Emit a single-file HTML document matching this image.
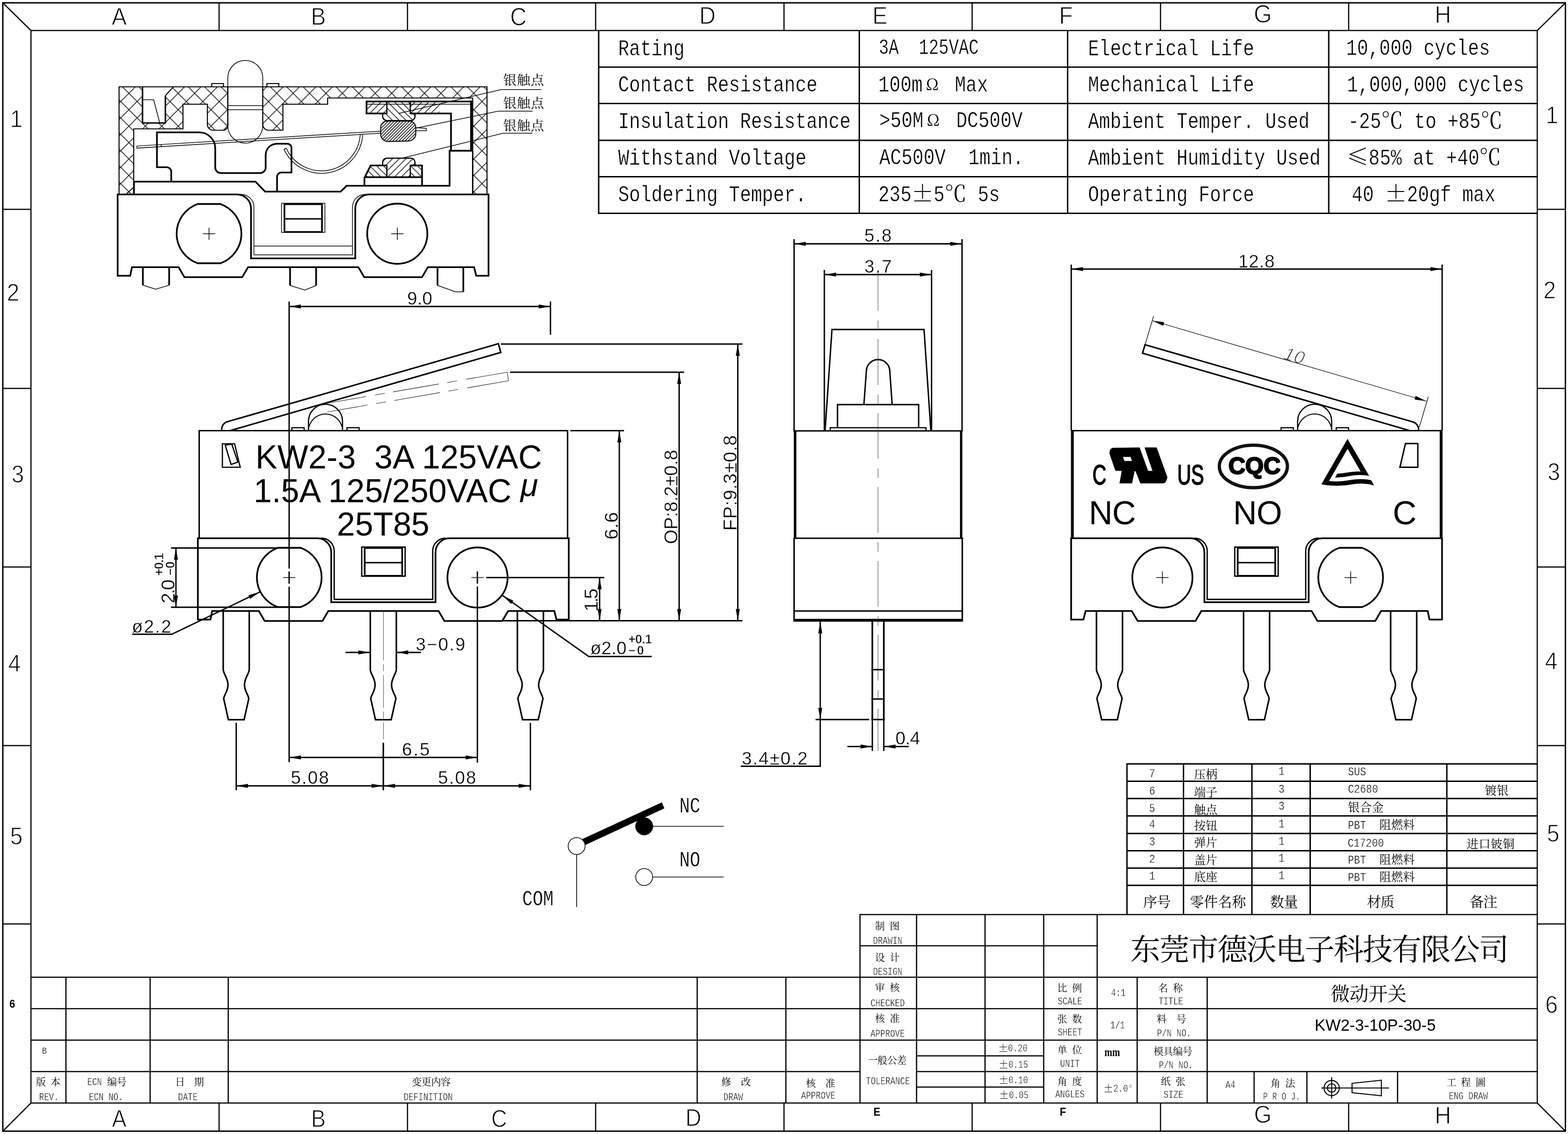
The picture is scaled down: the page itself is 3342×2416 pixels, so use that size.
<!DOCTYPE html>
<html><head><meta charset="utf-8"><title>KW2-3-10P-30-5</title>
<style>html,body{margin:0;padding:0;background:#fff}svg{display:block;will-change:transform}</style></head>
<body><svg width="3342" height="2416" viewBox="0 0 3342 2416" stroke="#000" fill="none" stroke-linecap="butt" stroke-linejoin="miter">
<rect x="0" y="0" width="3342" height="2416" fill="#fff" stroke="none"/>
<defs><pattern id="xh" patternUnits="userSpaceOnUse" width="35" height="35" x="12.25" y="6.25"><path d="M-1 -1 L36 36 M-1 36 L36 -1" stroke="#000" stroke-width="1.5" fill="none"/></pattern>
<pattern id="h1" patternUnits="userSpaceOnUse" width="14.5" height="14.5" x="0" y="0"><path d="M-1 15.5 L15.5 -1 M-1 1 L1 -1 M13.5 15.5 L15.5 13.5" stroke="#000" stroke-width="1.5" fill="none"/></pattern>
<pattern id="h2" patternUnits="userSpaceOnUse" width="14.5" height="14.5" x="0" y="0"><path d="M-1 -1 L15.5 15.5 M-1 13.5 L1 15.5 M13.5 -1 L15.5 1" stroke="#000" stroke-width="1.5" fill="none"/></pattern>
<pattern id="h3" patternUnits="userSpaceOnUse" width="6.5" height="6.5" x="0" y="0"><path d="M-1 7.5 L7.5 -1 M-1 1 L1 -1 M5.5 7.5 L7.5 5.5" stroke="#000" stroke-width="1.5" fill="none"/></pattern></defs>
<text transform="translate(254,53) scale(0.92,1)" font-family="'Liberation Sans',sans-serif" font-size="52.4" text-anchor="middle" stroke="#fff" stroke-width="1.3" fill="#000" xml:space="preserve" style="white-space:pre">A</text>
<text transform="translate(678.5,53) scale(0.92,1)" font-family="'Liberation Sans',sans-serif" font-size="52.4" text-anchor="middle" stroke="#fff" stroke-width="1.3" fill="#000" xml:space="preserve" style="white-space:pre">B</text>
<text transform="translate(1105,53.5) scale(0.92,1)" font-family="'Liberation Sans',sans-serif" font-size="53.15" text-anchor="middle" stroke="#fff" stroke-width="1.3" fill="#000" xml:space="preserve" style="white-space:pre">C</text>
<text transform="translate(1508,50.5) scale(0.92,1)" font-family="'Liberation Sans',sans-serif" font-size="52.4" text-anchor="middle" stroke="#fff" stroke-width="1.3" fill="#000" xml:space="preserve" style="white-space:pre">D</text>
<text transform="translate(1875.5,50.5) scale(0.92,1)" font-family="'Liberation Sans',sans-serif" font-size="52.4" text-anchor="middle" stroke="#fff" stroke-width="1.3" fill="#000" xml:space="preserve" style="white-space:pre">E</text>
<text transform="translate(2272,50.5) scale(0.92,1)" font-family="'Liberation Sans',sans-serif" font-size="52.4" text-anchor="middle" stroke="#fff" stroke-width="1.3" fill="#000" xml:space="preserve" style="white-space:pre">F</text>
<text transform="translate(2691.5,47.5) scale(0.92,1)" font-family="'Liberation Sans',sans-serif" font-size="53.9" text-anchor="middle" stroke="#fff" stroke-width="1.3" fill="#000" xml:space="preserve" style="white-space:pre">G</text>
<text transform="translate(3075.5,49) scale(0.92,1)" font-family="'Liberation Sans',sans-serif" font-size="52.4" text-anchor="middle" stroke="#fff" stroke-width="1.3" fill="#000" xml:space="preserve" style="white-space:pre">H</text>
<text transform="translate(254,2400.5) scale(0.92,1)" font-family="'Liberation Sans',sans-serif" font-size="50.9" text-anchor="middle" stroke="#fff" stroke-width="1.3" fill="#000" xml:space="preserve" style="white-space:pre">A</text>
<text transform="translate(678.5,2400.5) scale(0.92,1)" font-family="'Liberation Sans',sans-serif" font-size="50.9" text-anchor="middle" stroke="#fff" stroke-width="1.3" fill="#000" xml:space="preserve" style="white-space:pre">B</text>
<text transform="translate(1064,2400.5) scale(0.92,1)" font-family="'Liberation Sans',sans-serif" font-size="50.9" text-anchor="middle" stroke="#fff" stroke-width="1.3" fill="#000" xml:space="preserve" style="white-space:pre">C</text>
<text transform="translate(1478,2399) scale(0.92,1)" font-family="'Liberation Sans',sans-serif" font-size="50.9" text-anchor="middle" stroke="#fff" stroke-width="1.3" fill="#000" xml:space="preserve" style="white-space:pre">D</text>
<text transform="translate(2691.5,2391.5) scale(0.92,1)" font-family="'Liberation Sans',sans-serif" font-size="52.4" text-anchor="middle" stroke="#fff" stroke-width="1.3" fill="#000" xml:space="preserve" style="white-space:pre">G</text>
<text transform="translate(3075.5,2394) scale(0.92,1)" font-family="'Liberation Sans',sans-serif" font-size="52.4" text-anchor="middle" stroke="#fff" stroke-width="1.3" fill="#000" xml:space="preserve" style="white-space:pre">H</text>
<text transform="translate(1869,2376.5) scale(0.92,1)" font-family="'Liberation Sans',sans-serif" font-size="23.95" text-anchor="middle" font-weight="bold" stroke="none" fill="#000" xml:space="preserve" style="white-space:pre">E</text>
<text transform="translate(2265.5,2376.5) scale(0.92,1)" font-family="'Liberation Sans',sans-serif" font-size="23.95" text-anchor="middle" font-weight="bold" stroke="none" fill="#000" xml:space="preserve" style="white-space:pre">F</text>
<text transform="translate(35,270.5) scale(0.92,1)" font-family="'Liberation Sans',sans-serif" font-size="52.4" text-anchor="middle" stroke="#fff" stroke-width="1.3" fill="#000" xml:space="preserve" style="white-space:pre">1</text>
<text transform="translate(28,640.5) scale(0.92,1)" font-family="'Liberation Sans',sans-serif" font-size="52.4" text-anchor="middle" stroke="#fff" stroke-width="1.3" fill="#000" xml:space="preserve" style="white-space:pre">2</text>
<text transform="translate(38,1027.5) scale(0.92,1)" font-family="'Liberation Sans',sans-serif" font-size="52.4" text-anchor="middle" stroke="#fff" stroke-width="1.3" fill="#000" xml:space="preserve" style="white-space:pre">3</text>
<text transform="translate(31,1430.5) scale(0.92,1)" font-family="'Liberation Sans',sans-serif" font-size="52.4" text-anchor="middle" stroke="#fff" stroke-width="1.3" fill="#000" xml:space="preserve" style="white-space:pre">4</text>
<text transform="translate(35,1798.5) scale(0.92,1)" font-family="'Liberation Sans',sans-serif" font-size="52.4" text-anchor="middle" stroke="#fff" stroke-width="1.3" fill="#000" xml:space="preserve" style="white-space:pre">5</text>
<text transform="translate(26,2146.5) scale(0.92,1)" font-family="'Liberation Sans',sans-serif" font-size="23.95" text-anchor="middle" font-weight="bold" stroke="none" fill="#000" xml:space="preserve" style="white-space:pre">6</text>
<text transform="translate(3308,262.5) scale(0.92,1)" font-family="'Liberation Sans',sans-serif" font-size="52.4" text-anchor="middle" stroke="#fff" stroke-width="1.3" fill="#000" xml:space="preserve" style="white-space:pre">1</text>
<text transform="translate(3303,635.5) scale(0.92,1)" font-family="'Liberation Sans',sans-serif" font-size="52.4" text-anchor="middle" stroke="#fff" stroke-width="1.3" fill="#000" xml:space="preserve" style="white-space:pre">2</text>
<text transform="translate(3312,1022.5) scale(0.92,1)" font-family="'Liberation Sans',sans-serif" font-size="52.4" text-anchor="middle" stroke="#fff" stroke-width="1.3" fill="#000" xml:space="preserve" style="white-space:pre">3</text>
<text transform="translate(3306.5,1425.5) scale(0.92,1)" font-family="'Liberation Sans',sans-serif" font-size="52.4" text-anchor="middle" stroke="#fff" stroke-width="1.3" fill="#000" xml:space="preserve" style="white-space:pre">4</text>
<text transform="translate(3310.5,1792.5) scale(0.92,1)" font-family="'Liberation Sans',sans-serif" font-size="52.4" text-anchor="middle" stroke="#fff" stroke-width="1.3" fill="#000" xml:space="preserve" style="white-space:pre">5</text>
<text transform="translate(3307,2158) scale(0.92,1)" font-family="'Liberation Sans',sans-serif" font-size="52.4" text-anchor="middle" stroke="#fff" stroke-width="1.3" fill="#000" xml:space="preserve" style="white-space:pre">6</text>
<text transform="translate(1317.5,117.5) scale(0.81,1)" font-family="'Liberation Mono',monospace" font-size="48.58" stroke="#fff" stroke-width="0.6" fill="#000" xml:space="preserve" style="white-space:pre">Rating</text>
<text transform="translate(2319,117.5) scale(0.81,1)" font-family="'Liberation Mono',monospace" font-size="48.58" stroke="#fff" stroke-width="0.6" fill="#000" xml:space="preserve" style="white-space:pre">Electrical Life</text>
<text transform="translate(1317.5,195) scale(0.81,1)" font-family="'Liberation Mono',monospace" font-size="48.58" stroke="#fff" stroke-width="0.6" fill="#000" xml:space="preserve" style="white-space:pre">Contact Resistance</text>
<text transform="translate(2319,195) scale(0.81,1)" font-family="'Liberation Mono',monospace" font-size="48.58" stroke="#fff" stroke-width="0.6" fill="#000" xml:space="preserve" style="white-space:pre">Mechanical Life</text>
<text transform="translate(1317.5,272.5) scale(0.81,1)" font-family="'Liberation Mono',monospace" font-size="48.58" stroke="#fff" stroke-width="0.6" fill="#000" xml:space="preserve" style="white-space:pre">Insulation Resistance</text>
<text transform="translate(2319,272.5) scale(0.81,1)" font-family="'Liberation Mono',monospace" font-size="48.58" stroke="#fff" stroke-width="0.6" fill="#000" xml:space="preserve" style="white-space:pre">Ambient Temper. Used</text>
<text transform="translate(1317.5,350.5) scale(0.81,1)" font-family="'Liberation Mono',monospace" font-size="48.58" stroke="#fff" stroke-width="0.6" fill="#000" xml:space="preserve" style="white-space:pre">Withstand Voltage</text>
<text transform="translate(2319,350.5) scale(0.81,1)" font-family="'Liberation Mono',monospace" font-size="48.58" stroke="#fff" stroke-width="0.6" fill="#000" xml:space="preserve" style="white-space:pre">Ambient Humidity Used</text>
<text transform="translate(1317.5,428.5) scale(0.81,1)" font-family="'Liberation Mono',monospace" font-size="48.58" stroke="#fff" stroke-width="0.6" fill="#000" xml:space="preserve" style="white-space:pre">Soldering Temper.</text>
<text transform="translate(2319,428.5) scale(0.81,1)" font-family="'Liberation Mono',monospace" font-size="48.58" stroke="#fff" stroke-width="0.6" fill="#000" xml:space="preserve" style="white-space:pre">Operating Force</text>
<text transform="translate(1873,115) scale(0.78,1)" font-family="'Liberation Mono',monospace" font-size="45.54" stroke="#fff" stroke-width="0.6" fill="#000" xml:space="preserve" style="white-space:pre">3A  125VAC</text>
<text transform="translate(1872,195) scale(0.81,1)" font-family="'Liberation Mono',monospace" font-size="48.58" stroke="#fff" stroke-width="0.6" fill="#000" xml:space="preserve" style="white-space:pre">100m</text>
<text transform="translate(1974,192)" font-family="'Noto Serif CJK SC',serif" font-size="34" stroke="none" fill="#000" xml:space="preserve" style="white-space:pre">Ω</text>
<text transform="translate(2035,195) scale(0.81,1)" font-family="'Liberation Mono',monospace" font-size="48.58" stroke="#fff" stroke-width="0.6" fill="#000" xml:space="preserve" style="white-space:pre">Max</text>
<text transform="translate(1874,271) scale(0.81,1)" font-family="'Liberation Mono',monospace" font-size="48.58" stroke="#fff" stroke-width="0.6" fill="#000" xml:space="preserve" style="white-space:pre">&gt;50M</text>
<text transform="translate(1976,268)" font-family="'Noto Serif CJK SC',serif" font-size="34" stroke="none" fill="#000" xml:space="preserve" style="white-space:pre">Ω</text>
<text transform="translate(2038,271) scale(0.81,1)" font-family="'Liberation Mono',monospace" font-size="48.58" stroke="#fff" stroke-width="0.6" fill="#000" xml:space="preserve" style="white-space:pre">DC500V</text>
<text transform="translate(1874,349.5) scale(0.81,1)" font-family="'Liberation Mono',monospace" font-size="48.58" stroke="#fff" stroke-width="0.6" fill="#000" xml:space="preserve" style="white-space:pre">AC500V</text>
<text transform="translate(2064,349.5) scale(0.81,1)" font-family="'Liberation Mono',monospace" font-size="48.58" stroke="#fff" stroke-width="0.6" fill="#000" xml:space="preserve" style="white-space:pre">1min.</text>
<text transform="translate(1872,428.5) scale(0.81,1)" font-family="'Liberation Mono',monospace" font-size="48.58" stroke="#fff" stroke-width="0.6" fill="#000" xml:space="preserve" style="white-space:pre">235</text>
<text transform="translate(1942.65,428.5)" font-family="'Noto Serif CJK SC',serif" font-size="47.1" stroke="none" fill="#000" xml:space="preserve" style="white-space:pre">±</text>
<text transform="translate(1989.75,428.5) scale(0.81,1)" font-family="'Liberation Mono',monospace" font-size="48.58" stroke="#fff" stroke-width="0.6" fill="#000" xml:space="preserve" style="white-space:pre">5</text>
<text transform="translate(2013.3,428.5)" font-family="'Noto Serif CJK SC',serif" font-size="47.1" stroke="none" fill="#000" xml:space="preserve" style="white-space:pre">℃</text>
<text transform="translate(2083.95,428.5) scale(0.81,1)" font-family="'Liberation Mono',monospace" font-size="48.58" stroke="#fff" stroke-width="0.6" fill="#000" xml:space="preserve" style="white-space:pre">5s</text>
<text transform="translate(2869,117) scale(0.81,1)" font-family="'Liberation Mono',monospace" font-size="48.58" stroke="#fff" stroke-width="0.6" fill="#000" xml:space="preserve" style="white-space:pre">10,000 cycles</text>
<text transform="translate(2871,194.5) scale(0.81,1)" font-family="'Liberation Mono',monospace" font-size="48.58" stroke="#fff" stroke-width="0.6" fill="#000" xml:space="preserve" style="white-space:pre">1,000,000 cycles</text>
<text transform="translate(2873,273) scale(0.81,1)" font-family="'Liberation Mono',monospace" font-size="48.58" stroke="#fff" stroke-width="0.6" fill="#000" xml:space="preserve" style="white-space:pre">-25</text>
<text transform="translate(2943.65,273)" font-family="'Noto Serif CJK SC',serif" font-size="47.1" stroke="none" fill="#000" xml:space="preserve" style="white-space:pre">℃</text>
<text transform="translate(3014.3,273) scale(0.81,1)" font-family="'Liberation Mono',monospace" font-size="48.58" stroke="#fff" stroke-width="0.6" fill="#000" xml:space="preserve" style="white-space:pre">to +85</text>
<text transform="translate(3155.6,273)" font-family="'Noto Serif CJK SC',serif" font-size="47.1" stroke="none" fill="#000" xml:space="preserve" style="white-space:pre">℃</text>
<text transform="translate(2870,351)" font-family="'Noto Serif CJK SC',serif" font-size="47.1" stroke="none" fill="#000" xml:space="preserve" style="white-space:pre">≤</text>
<text transform="translate(2917.1,351) scale(0.81,1)" font-family="'Liberation Mono',monospace" font-size="48.58" stroke="#fff" stroke-width="0.6" fill="#000" xml:space="preserve" style="white-space:pre">85% at +40</text>
<text transform="translate(3152.6,351)" font-family="'Noto Serif CJK SC',serif" font-size="47.1" stroke="none" fill="#000" xml:space="preserve" style="white-space:pre">℃</text>
<text transform="translate(2881,428.5) scale(0.81,1)" font-family="'Liberation Mono',monospace" font-size="48.58" stroke="#fff" stroke-width="0.6" fill="#000" xml:space="preserve" style="white-space:pre">40</text>
<text transform="translate(2951.65,428.5)" font-family="'Noto Serif CJK SC',serif" font-size="47.1" stroke="none" fill="#000" xml:space="preserve" style="white-space:pre">±</text>
<text transform="translate(2998.75,428.5) scale(0.81,1)" font-family="'Liberation Mono',monospace" font-size="48.58" stroke="#fff" stroke-width="0.6" fill="#000" xml:space="preserve" style="white-space:pre">20gf max</text>
<text transform="translate(1865.02,1979.82)" font-family="'Noto Serif CJK SC',serif" font-size="21" stroke="none" fill="#000" xml:space="preserve" style="white-space:pre">制</text>
<text transform="translate(1896.52,1979.82)" font-family="'Noto Serif CJK SC',serif" font-size="21" stroke="none" fill="#000" xml:space="preserve" style="white-space:pre">图</text>
<text transform="translate(1860.65,2010.75) scale(0.79,1)" font-family="'Liberation Mono',monospace" font-size="22.01" stroke="#fff" stroke-width="0.5" fill="#000" xml:space="preserve" style="white-space:pre">DRAWIN</text>
<text transform="translate(1865.02,2046.82)" font-family="'Noto Serif CJK SC',serif" font-size="21" stroke="none" fill="#000" xml:space="preserve" style="white-space:pre">设</text>
<text transform="translate(1896.52,2046.82)" font-family="'Noto Serif CJK SC',serif" font-size="21" stroke="none" fill="#000" xml:space="preserve" style="white-space:pre">计</text>
<text transform="translate(1860.65,2077) scale(0.79,1)" font-family="'Liberation Mono',monospace" font-size="22.01" stroke="#fff" stroke-width="0.5" fill="#000" xml:space="preserve" style="white-space:pre">DESIGN</text>
<text transform="translate(1865.02,2111.32)" font-family="'Noto Serif CJK SC',serif" font-size="21" stroke="none" fill="#000" xml:space="preserve" style="white-space:pre">审</text>
<text transform="translate(1896.52,2111.32)" font-family="'Noto Serif CJK SC',serif" font-size="21" stroke="none" fill="#000" xml:space="preserve" style="white-space:pre">核</text>
<text transform="translate(1855.42,2143.75) scale(0.79,1)" font-family="'Liberation Mono',monospace" font-size="22.01" stroke="#fff" stroke-width="0.5" fill="#000" xml:space="preserve" style="white-space:pre">CHECKED</text>
<text transform="translate(1865.02,2177.32)" font-family="'Noto Serif CJK SC',serif" font-size="21" stroke="none" fill="#000" xml:space="preserve" style="white-space:pre">核</text>
<text transform="translate(1896.52,2177.32)" font-family="'Noto Serif CJK SC',serif" font-size="21" stroke="none" fill="#000" xml:space="preserve" style="white-space:pre">准</text>
<text transform="translate(1855.42,2208.75) scale(0.79,1)" font-family="'Liberation Mono',monospace" font-size="22.01" stroke="#fff" stroke-width="0.5" fill="#000" xml:space="preserve" style="white-space:pre">APPROVE</text>
<text transform="translate(1849.77,2266.32)" font-family="'Noto Serif CJK SC',serif" font-size="21" letter-spacing="-0.42" stroke="none" fill="#000" xml:space="preserve" style="white-space:pre">一般公差</text>
<text transform="translate(1845.47,2310) scale(0.79,1)" font-family="'Liberation Mono',monospace" font-size="22.01" stroke="#fff" stroke-width="0.5" fill="#000" xml:space="preserve" style="white-space:pre">TOLERANCE</text>
<text transform="translate(2127.5,2239.5)" font-family="'Noto Serif CJK SC',serif" font-size="20.9" stroke="none" fill="#000" xml:space="preserve" style="white-space:pre">±</text>
<text transform="translate(2148.4,2239.5) scale(0.79,1)" font-family="'Liberation Mono',monospace" font-size="22.01" stroke="#fff" stroke-width="0.5" fill="#000" xml:space="preserve" style="white-space:pre">0.20</text>
<text transform="translate(2128.5,2275)" font-family="'Noto Serif CJK SC',serif" font-size="20.9" stroke="none" fill="#000" xml:space="preserve" style="white-space:pre">±</text>
<text transform="translate(2149.4,2275) scale(0.79,1)" font-family="'Liberation Mono',monospace" font-size="22.01" stroke="#fff" stroke-width="0.5" fill="#000" xml:space="preserve" style="white-space:pre">0.15</text>
<text transform="translate(2128.5,2308.25)" font-family="'Noto Serif CJK SC',serif" font-size="20.9" stroke="none" fill="#000" xml:space="preserve" style="white-space:pre">±</text>
<text transform="translate(2149.4,2308.25) scale(0.79,1)" font-family="'Liberation Mono',monospace" font-size="22.01" stroke="#fff" stroke-width="0.5" fill="#000" xml:space="preserve" style="white-space:pre">0.10</text>
<text transform="translate(2129.5,2339.5)" font-family="'Noto Serif CJK SC',serif" font-size="20.9" stroke="none" fill="#000" xml:space="preserve" style="white-space:pre">±</text>
<text transform="translate(2150.4,2339.5) scale(0.79,1)" font-family="'Liberation Mono',monospace" font-size="22.01" stroke="#fff" stroke-width="0.5" fill="#000" xml:space="preserve" style="white-space:pre">0.05</text>
<text transform="translate(2253.51,2111.82)" font-family="'Noto Serif CJK SC',serif" font-size="21" stroke="none" fill="#000" xml:space="preserve" style="white-space:pre">比</text>
<text transform="translate(2285.01,2111.82)" font-family="'Noto Serif CJK SC',serif" font-size="21" stroke="none" fill="#000" xml:space="preserve" style="white-space:pre">例</text>
<text transform="translate(2254.38,2140) scale(0.79,1)" font-family="'Liberation Mono',monospace" font-size="22.01" stroke="#fff" stroke-width="0.5" fill="#000" xml:space="preserve" style="white-space:pre">SCALE</text>
<text transform="translate(2253.51,2177.82)" font-family="'Noto Serif CJK SC',serif" font-size="21" stroke="none" fill="#000" xml:space="preserve" style="white-space:pre">张</text>
<text transform="translate(2285.01,2177.82)" font-family="'Noto Serif CJK SC',serif" font-size="21" stroke="none" fill="#000" xml:space="preserve" style="white-space:pre">数</text>
<text transform="translate(2254.38,2206.25) scale(0.79,1)" font-family="'Liberation Mono',monospace" font-size="22.01" stroke="#fff" stroke-width="0.5" fill="#000" xml:space="preserve" style="white-space:pre">SHEET</text>
<text transform="translate(2253.51,2244.32)" font-family="'Noto Serif CJK SC',serif" font-size="21" stroke="none" fill="#000" xml:space="preserve" style="white-space:pre">单</text>
<text transform="translate(2285.01,2244.32)" font-family="'Noto Serif CJK SC',serif" font-size="21" stroke="none" fill="#000" xml:space="preserve" style="white-space:pre">位</text>
<text transform="translate(2259.6,2272.5) scale(0.79,1)" font-family="'Liberation Mono',monospace" font-size="22.01" stroke="#fff" stroke-width="0.5" fill="#000" xml:space="preserve" style="white-space:pre">UNIT</text>
<text transform="translate(2253.51,2310.82)" font-family="'Noto Serif CJK SC',serif" font-size="21" stroke="none" fill="#000" xml:space="preserve" style="white-space:pre">角</text>
<text transform="translate(2285.01,2310.82)" font-family="'Noto Serif CJK SC',serif" font-size="21" stroke="none" fill="#000" xml:space="preserve" style="white-space:pre">度</text>
<text transform="translate(2249.15,2337.5) scale(0.79,1)" font-family="'Liberation Mono',monospace" font-size="22.01" stroke="#fff" stroke-width="0.5" fill="#000" xml:space="preserve" style="white-space:pre">ANGLES</text>
<text transform="translate(2368,2122) scale(0.79,1)" font-family="'Liberation Mono',monospace" font-size="22.01" stroke="#fff" stroke-width="0.5" fill="#000" xml:space="preserve" style="white-space:pre">4:1</text>
<text transform="translate(2366.5,2190.75) scale(0.79,1)" font-family="'Liberation Mono',monospace" font-size="22.01" stroke="#fff" stroke-width="0.5" fill="#000" xml:space="preserve" style="white-space:pre">1/1</text>
<text transform="translate(2354,2249.5) scale(0.95,1.22)" font-family="'Liberation Serif','Noto Serif CJK SC',serif" font-size="21" font-weight="bold" stroke="none" fill="#000" xml:space="preserve" style="white-space:pre">mm</text>
<text transform="translate(2352,2325.75)" font-family="'Noto Serif CJK SC',serif" font-size="20.9" stroke="none" fill="#000" xml:space="preserve" style="white-space:pre">±</text>
<text transform="translate(2372.9,2325.75) scale(0.79,1)" font-family="'Liberation Mono',monospace" font-size="22.01" stroke="#fff" stroke-width="0.5" fill="#000" xml:space="preserve" style="white-space:pre">2.0°</text>
<text transform="translate(2468.51,2111.82)" font-family="'Noto Serif CJK SC',serif" font-size="21" stroke="none" fill="#000" xml:space="preserve" style="white-space:pre">名</text>
<text transform="translate(2500.01,2111.82)" font-family="'Noto Serif CJK SC',serif" font-size="21" stroke="none" fill="#000" xml:space="preserve" style="white-space:pre">称</text>
<text transform="translate(2469.38,2140) scale(0.79,1)" font-family="'Liberation Mono',monospace" font-size="22.01" stroke="#fff" stroke-width="0.5" fill="#000" xml:space="preserve" style="white-space:pre">TITLE</text>
<text transform="translate(2465.26,2178.32)" font-family="'Noto Serif CJK SC',serif" font-size="21" stroke="none" fill="#000" xml:space="preserve" style="white-space:pre">料</text>
<text transform="translate(2507.26,2178.32)" font-family="'Noto Serif CJK SC',serif" font-size="21" stroke="none" fill="#000" xml:space="preserve" style="white-space:pre">号</text>
<text transform="translate(2466,2208) scale(0.79,1)" font-family="'Liberation Mono',monospace" font-size="22.01" stroke="#fff" stroke-width="0.5" fill="#000" xml:space="preserve" style="white-space:pre">P/N NO.</text>
<text transform="translate(2458.76,2246.82)" font-family="'Noto Serif CJK SC',serif" font-size="21" letter-spacing="-0.42" stroke="none" fill="#000" xml:space="preserve" style="white-space:pre">模具编号</text>
<text transform="translate(2470,2275.75) scale(0.79,1)" font-family="'Liberation Mono',monospace" font-size="22.01" stroke="#fff" stroke-width="0.5" fill="#000" xml:space="preserve" style="white-space:pre">P/N NO.</text>
<text transform="translate(2474.01,2311.32)" font-family="'Noto Serif CJK SC',serif" font-size="21" stroke="none" fill="#000" xml:space="preserve" style="white-space:pre">纸</text>
<text transform="translate(2505.51,2311.32)" font-family="'Noto Serif CJK SC',serif" font-size="21" stroke="none" fill="#000" xml:space="preserve" style="white-space:pre">张</text>
<text transform="translate(2480.1,2339) scale(0.79,1)" font-family="'Liberation Mono',monospace" font-size="22.01" stroke="#fff" stroke-width="0.5" fill="#000" xml:space="preserve" style="white-space:pre">SIZE</text>
<text transform="translate(2612,2318) scale(0.79,1)" font-family="'Liberation Mono',monospace" font-size="22.01" stroke="#fff" stroke-width="0.5" fill="#000" xml:space="preserve" style="white-space:pre">A4</text>
<text transform="translate(2708.01,2314.82)" font-family="'Noto Serif CJK SC',serif" font-size="21" stroke="none" fill="#000" xml:space="preserve" style="white-space:pre">角</text>
<text transform="translate(2739.51,2314.82)" font-family="'Noto Serif CJK SC',serif" font-size="21" stroke="none" fill="#000" xml:space="preserve" style="white-space:pre">法</text>
<text transform="translate(2692,2342.5) scale(0.75,1)" font-family="'Liberation Mono',monospace" font-size="22.01" stroke="#fff" stroke-width="0.5" fill="#000" xml:space="preserve" style="white-space:pre">P R O J.</text>
<text transform="translate(3083.26,2312.82)" font-family="'Noto Serif CJK SC',serif" font-size="21" stroke="none" fill="#000" xml:space="preserve" style="white-space:pre">工</text>
<text transform="translate(3113.76,2312.82)" font-family="'Noto Serif CJK SC',serif" font-size="21" stroke="none" fill="#000" xml:space="preserve" style="white-space:pre">程</text>
<text transform="translate(3145.26,2312.82)" font-family="'Noto Serif CJK SC',serif" font-size="21" stroke="none" fill="#000" xml:space="preserve" style="white-space:pre">圖</text>
<text transform="translate(3088,2342) scale(0.79,1)" font-family="'Liberation Mono',monospace" font-size="22.01" stroke="#fff" stroke-width="0.5" fill="#000" xml:space="preserve" style="white-space:pre">ENG DRAW</text>
<text transform="translate(2409.26,2045.38)" font-family="'Noto Serif CJK SC',serif" font-size="64" letter-spacing="-2.1" stroke="none" fill="#000" xml:space="preserve" style="white-space:pre">东莞市德沃电子科技有限公司</text>
<text transform="translate(2836.07,2132.22)" font-family="'Noto Serif CJK SC',serif" font-size="41" letter-spacing="-0.7" stroke="none" fill="#000" xml:space="preserve" style="white-space:pre">微动开关</text>
<text transform="translate(2802,2195.5)" font-family="'Liberation Sans',sans-serif" font-size="34.4" stroke="none" fill="#000" xml:space="preserve" style="white-space:pre">KW2-3-10P-30-5</text>
<text transform="translate(89.5,2245) scale(0.88,1)" font-family="'Liberation Mono',monospace" font-size="19.74" stroke="#fff" stroke-width="0.5" fill="#000" xml:space="preserve" style="white-space:pre">B</text>
<text transform="translate(76.77,2312.32)" font-family="'Noto Serif CJK SC',serif" font-size="21" stroke="none" fill="#000" xml:space="preserve" style="white-space:pre">版</text>
<text transform="translate(107.77,2312.32)" font-family="'Noto Serif CJK SC',serif" font-size="21" stroke="none" fill="#000" xml:space="preserve" style="white-space:pre">本</text>
<text transform="translate(83.5,2343.5) scale(0.79,1)" font-family="'Liberation Mono',monospace" font-size="22.01" stroke="#fff" stroke-width="0.5" fill="#000" xml:space="preserve" style="white-space:pre">REV.</text>
<text transform="translate(186,2312) scale(0.79,1)" font-family="'Liberation Mono',monospace" font-size="22.01" stroke="#fff" stroke-width="0.5" fill="#000" xml:space="preserve" style="white-space:pre">ECN</text>
<text transform="translate(228.26,2312.32)" font-family="'Noto Serif CJK SC',serif" font-size="21" letter-spacing="-0.42" stroke="none" fill="#000" xml:space="preserve" style="white-space:pre">编号</text>
<text transform="translate(189.5,2343.5) scale(0.79,1)" font-family="'Liberation Mono',monospace" font-size="22.01" stroke="#fff" stroke-width="0.5" fill="#000" xml:space="preserve" style="white-space:pre">ECN NO.</text>
<text transform="translate(373.26,2312.32)" font-family="'Noto Serif CJK SC',serif" font-size="21" stroke="none" fill="#000" xml:space="preserve" style="white-space:pre">日</text>
<text transform="translate(413.76,2312.32)" font-family="'Noto Serif CJK SC',serif" font-size="21" stroke="none" fill="#000" xml:space="preserve" style="white-space:pre">期</text>
<text transform="translate(379.5,2343.5) scale(0.79,1)" font-family="'Liberation Mono',monospace" font-size="22.01" stroke="#fff" stroke-width="0.5" fill="#000" xml:space="preserve" style="white-space:pre">DATE</text>
<text transform="translate(877.76,2312.32)" font-family="'Noto Serif CJK SC',serif" font-size="21" letter-spacing="-0.42" stroke="none" fill="#000" xml:space="preserve" style="white-space:pre">变更内容</text>
<text transform="translate(860.5,2343.5) scale(0.79,1)" font-family="'Liberation Mono',monospace" font-size="22.01" stroke="#fff" stroke-width="0.5" fill="#000" xml:space="preserve" style="white-space:pre">DEFINITION</text>
<text transform="translate(1537.27,2312.32)" font-family="'Noto Serif CJK SC',serif" font-size="21" stroke="none" fill="#000" xml:space="preserve" style="white-space:pre">修</text>
<text transform="translate(1579.27,2312.32)" font-family="'Noto Serif CJK SC',serif" font-size="21" stroke="none" fill="#000" xml:space="preserve" style="white-space:pre">改</text>
<text transform="translate(1542,2343.5) scale(0.79,1)" font-family="'Liberation Mono',monospace" font-size="22.01" stroke="#fff" stroke-width="0.5" fill="#000" xml:space="preserve" style="white-space:pre">DRAW</text>
<text transform="translate(1717.77,2314.82)" font-family="'Noto Serif CJK SC',serif" font-size="21" stroke="none" fill="#000" xml:space="preserve" style="white-space:pre">核</text>
<text transform="translate(1759.27,2314.82)" font-family="'Noto Serif CJK SC',serif" font-size="21" stroke="none" fill="#000" xml:space="preserve" style="white-space:pre">准</text>
<text transform="translate(1707.5,2341) scale(0.79,1)" font-family="'Liberation Mono',monospace" font-size="22.01" stroke="#fff" stroke-width="0.5" fill="#000" xml:space="preserve" style="white-space:pre">APPROVE</text>
<text transform="translate(2449.35,1655.5) scale(0.83,1)" font-family="'Liberation Mono',monospace" font-size="25.81" stroke="#fff" stroke-width="0.5" fill="#000" xml:space="preserve" style="white-space:pre">7</text>
<text transform="translate(2449.35,1692.5) scale(0.83,1)" font-family="'Liberation Mono',monospace" font-size="25.81" stroke="#fff" stroke-width="0.5" fill="#000" xml:space="preserve" style="white-space:pre">6</text>
<text transform="translate(2449.35,1730) scale(0.83,1)" font-family="'Liberation Mono',monospace" font-size="25.81" stroke="#fff" stroke-width="0.5" fill="#000" xml:space="preserve" style="white-space:pre">5</text>
<text transform="translate(2449.35,1763.75) scale(0.83,1)" font-family="'Liberation Mono',monospace" font-size="25.81" stroke="#fff" stroke-width="0.5" fill="#000" xml:space="preserve" style="white-space:pre">4</text>
<text transform="translate(2449.35,1800.75) scale(0.83,1)" font-family="'Liberation Mono',monospace" font-size="25.81" stroke="#fff" stroke-width="0.5" fill="#000" xml:space="preserve" style="white-space:pre">3</text>
<text transform="translate(2449.35,1837.5) scale(0.83,1)" font-family="'Liberation Mono',monospace" font-size="25.81" stroke="#fff" stroke-width="0.5" fill="#000" xml:space="preserve" style="white-space:pre">2</text>
<text transform="translate(2449.35,1873.75) scale(0.83,1)" font-family="'Liberation Mono',monospace" font-size="25.81" stroke="#fff" stroke-width="0.5" fill="#000" xml:space="preserve" style="white-space:pre">1</text>
<text transform="translate(2545.12,1659)" font-family="'Noto Serif CJK SC',serif" font-size="25" letter-spacing="-0.3" stroke="none" fill="#000" xml:space="preserve" style="white-space:pre">压柄</text>
<text transform="translate(2545.12,1696.75)" font-family="'Noto Serif CJK SC',serif" font-size="25" letter-spacing="-0.3" stroke="none" fill="#000" xml:space="preserve" style="white-space:pre">端子</text>
<text transform="translate(2545.12,1733.75)" font-family="'Noto Serif CJK SC',serif" font-size="25" letter-spacing="-0.3" stroke="none" fill="#000" xml:space="preserve" style="white-space:pre">触点</text>
<text transform="translate(2545.12,1768)" font-family="'Noto Serif CJK SC',serif" font-size="25" letter-spacing="-0.3" stroke="none" fill="#000" xml:space="preserve" style="white-space:pre">按钮</text>
<text transform="translate(2545.12,1804)" font-family="'Noto Serif CJK SC',serif" font-size="25" letter-spacing="-0.3" stroke="none" fill="#000" xml:space="preserve" style="white-space:pre">弹片</text>
<text transform="translate(2545.12,1841)" font-family="'Noto Serif CJK SC',serif" font-size="25" letter-spacing="-0.3" stroke="none" fill="#000" xml:space="preserve" style="white-space:pre">盖片</text>
<text transform="translate(2545.12,1876.75)" font-family="'Noto Serif CJK SC',serif" font-size="25" letter-spacing="-0.3" stroke="none" fill="#000" xml:space="preserve" style="white-space:pre">底座</text>
<text transform="translate(2725.1,1651.25) scale(0.83,1)" font-family="'Liberation Mono',monospace" font-size="25.81" stroke="#fff" stroke-width="0.5" fill="#000" xml:space="preserve" style="white-space:pre">1</text>
<text transform="translate(2725.1,1688.75) scale(0.83,1)" font-family="'Liberation Mono',monospace" font-size="25.81" stroke="#fff" stroke-width="0.5" fill="#000" xml:space="preserve" style="white-space:pre">3</text>
<text transform="translate(2725.1,1725) scale(0.83,1)" font-family="'Liberation Mono',monospace" font-size="25.81" stroke="#fff" stroke-width="0.5" fill="#000" xml:space="preserve" style="white-space:pre">3</text>
<text transform="translate(2725.1,1762.5) scale(0.83,1)" font-family="'Liberation Mono',monospace" font-size="25.81" stroke="#fff" stroke-width="0.5" fill="#000" xml:space="preserve" style="white-space:pre">1</text>
<text transform="translate(2725.1,1799.5) scale(0.83,1)" font-family="'Liberation Mono',monospace" font-size="25.81" stroke="#fff" stroke-width="0.5" fill="#000" xml:space="preserve" style="white-space:pre">1</text>
<text transform="translate(2725.1,1836.25) scale(0.83,1)" font-family="'Liberation Mono',monospace" font-size="25.81" stroke="#fff" stroke-width="0.5" fill="#000" xml:space="preserve" style="white-space:pre">1</text>
<text transform="translate(2725.1,1873) scale(0.83,1)" font-family="'Liberation Mono',monospace" font-size="25.81" stroke="#fff" stroke-width="0.5" fill="#000" xml:space="preserve" style="white-space:pre">1</text>
<text transform="translate(2873,1651.75) scale(0.83,1)" font-family="'Liberation Mono',monospace" font-size="25.81" stroke="#fff" stroke-width="0.5" fill="#000" xml:space="preserve" style="white-space:pre">SUS</text>
<text transform="translate(2873,1688.75) scale(0.83,1)" font-family="'Liberation Mono',monospace" font-size="25.81" stroke="#fff" stroke-width="0.5" fill="#000" xml:space="preserve" style="white-space:pre">C2680</text>
<text transform="translate(2873.12,1729.25)" font-family="'Noto Serif CJK SC',serif" font-size="25" letter-spacing="0.4" stroke="none" fill="#000" xml:space="preserve" style="white-space:pre">银合金</text>
<text transform="translate(2873,1766.25) scale(0.83,1)" font-family="'Liberation Mono',monospace" font-size="25.81" stroke="#fff" stroke-width="0.5" fill="#000" xml:space="preserve" style="white-space:pre">PBT</text>
<text transform="translate(2940.12,1765.75)" font-family="'Noto Serif CJK SC',serif" font-size="25" letter-spacing="0.2" stroke="none" fill="#000" xml:space="preserve" style="white-space:pre">阻燃料</text>
<text transform="translate(2873,1840) scale(0.83,1)" font-family="'Liberation Mono',monospace" font-size="25.81" stroke="#fff" stroke-width="0.5" fill="#000" xml:space="preserve" style="white-space:pre">PBT</text>
<text transform="translate(2940.12,1839.5)" font-family="'Noto Serif CJK SC',serif" font-size="25" letter-spacing="0.2" stroke="none" fill="#000" xml:space="preserve" style="white-space:pre">阻燃料</text>
<text transform="translate(2873,1877) scale(0.83,1)" font-family="'Liberation Mono',monospace" font-size="25.81" stroke="#fff" stroke-width="0.5" fill="#000" xml:space="preserve" style="white-space:pre">PBT</text>
<text transform="translate(2940.12,1876.5)" font-family="'Noto Serif CJK SC',serif" font-size="25" letter-spacing="0.2" stroke="none" fill="#000" xml:space="preserve" style="white-space:pre">阻燃料</text>
<text transform="translate(2872.5,1803.75) scale(0.83,1)" font-family="'Liberation Mono',monospace" font-size="25.81" stroke="#fff" stroke-width="0.5" fill="#000" xml:space="preserve" style="white-space:pre">C17200</text>
<text transform="translate(3165.12,1692.5)" font-family="'Noto Serif CJK SC',serif" font-size="25" letter-spacing="0.2" stroke="none" fill="#000" xml:space="preserve" style="white-space:pre">镀银</text>
<text transform="translate(3126.12,1806.75)" font-family="'Noto Serif CJK SC',serif" font-size="25" letter-spacing="0.6" stroke="none" fill="#000" xml:space="preserve" style="white-space:pre">进口铍铜</text>
<text transform="translate(2436.45,1931.6)" font-family="'Noto Serif CJK SC',serif" font-size="30" letter-spacing="-1" stroke="none" fill="#000" xml:space="preserve" style="white-space:pre">序号</text>
<text transform="translate(2535.95,1931.6)" font-family="'Noto Serif CJK SC',serif" font-size="30" letter-spacing="-0.1" stroke="none" fill="#000" xml:space="preserve" style="white-space:pre">零件名称</text>
<text transform="translate(2706.95,1931.6)" font-family="'Noto Serif CJK SC',serif" font-size="30" letter-spacing="-0.7" stroke="none" fill="#000" xml:space="preserve" style="white-space:pre">数量</text>
<text transform="translate(2913.45,1931.6)" font-family="'Noto Serif CJK SC',serif" font-size="30" letter-spacing="-1.2" stroke="none" fill="#000" xml:space="preserve" style="white-space:pre">材质</text>
<text transform="translate(3132.45,1931.6)" font-family="'Noto Serif CJK SC',serif" font-size="30" letter-spacing="-0.9" stroke="none" fill="#000" xml:space="preserve" style="white-space:pre">备注</text>
<text transform="translate(1072.5,181.47)" font-family="'Noto Serif CJK SC',serif" font-size="28.5" letter-spacing="0.8" stroke="none" fill="#000" xml:space="preserve" style="white-space:pre">银触点</text>
<text transform="translate(1072.5,229.72)" font-family="'Noto Serif CJK SC',serif" font-size="28.5" letter-spacing="0.8" stroke="none" fill="#000" xml:space="preserve" style="white-space:pre">银触点</text>
<text transform="translate(1072.5,277.72)" font-family="'Noto Serif CJK SC',serif" font-size="28.5" letter-spacing="0.8" stroke="none" fill="#000" xml:space="preserve" style="white-space:pre">银触点</text>
<text transform="translate(550,998)" x="-5.57" font-family="'Liberation Sans',sans-serif" font-size="69.6" letter-spacing="0.31" stroke="none" fill="#000" xml:space="preserve" style="white-space:pre">KW2-3  3A 125VAC</text>
<text transform="translate(546,1070)" x="-5.22" font-family="'Liberation Sans',sans-serif" font-size="69.6" letter-spacing="0.08" stroke="none" fill="#000" xml:space="preserve" style="white-space:pre">1.5A 125/250VAC</text>
<text transform="translate(1108,1056.5)" x="1.37" font-family="'Liberation Sans',sans-serif" font-size="68.5" font-style="italic" stroke="none" fill="#000" xml:space="preserve" style="white-space:pre">μ</text>
<text transform="translate(721.5,1140.5)" x="-3.48" font-family="'Liberation Sans',sans-serif" font-size="69.6" letter-spacing="-0.01" stroke="none" fill="#000" xml:space="preserve" style="white-space:pre">25T85</text>
<text transform="translate(869.5,648.75)" x="-1.73" font-family="'Liberation Sans',sans-serif" font-size="38.5" letter-spacing="0.03" stroke="#fff" stroke-width="0.5" fill="#000" xml:space="preserve" style="white-space:pre">9.0</text>
<text transform="translate(858.75,1609.5)" x="-1.93" font-family="'Liberation Sans',sans-serif" font-size="38.5" letter-spacing="2.72" stroke="#fff" stroke-width="0.5" fill="#000" xml:space="preserve" style="white-space:pre">6.5</text>
<text transform="translate(621.25,1670)" x="-1.54" font-family="'Liberation Sans',sans-serif" font-size="38.5" letter-spacing="2.07" stroke="#fff" stroke-width="0.5" fill="#000" xml:space="preserve" style="white-space:pre">5.08</text>
<text transform="translate(935,1670)" x="-1.54" font-family="'Liberation Sans',sans-serif" font-size="38.5" letter-spacing="2.07" stroke="#fff" stroke-width="0.5" fill="#000" xml:space="preserve" style="white-space:pre">5.08</text>
<text transform="translate(372,1283.75) rotate(-90)" x="-2.05" font-family="'Liberation Sans',sans-serif" font-size="41" letter-spacing="-2.88" stroke="#fff" stroke-width="0.5" fill="#000" xml:space="preserve" style="white-space:pre">2.0</text>
<text transform="translate(348,1226) rotate(-90)" x="-1.08" font-family="'Liberation Sans',sans-serif" font-size="27" font-weight="bold" letter-spacing="-1.52" stroke="#fff" stroke-width="0.8" fill="#000" xml:space="preserve" style="white-space:pre">+0.1</text>
<text transform="translate(372,1225) rotate(-90)" x="-1.08" font-family="'Liberation Sans',sans-serif" font-size="27" font-weight="bold" letter-spacing="-0.62" stroke="#fff" stroke-width="0.8" fill="#000" xml:space="preserve" style="white-space:pre">−0</text>
<text transform="translate(282,1347.5)" x="-0.96" font-family="'Liberation Sans',sans-serif" font-size="38.5" letter-spacing="2.3" stroke="#fff" stroke-width="0.5" fill="#000" xml:space="preserve" style="white-space:pre">ø2.2</text>
<text transform="translate(887.5,1386.25)" x="-1.54" font-family="'Liberation Sans',sans-serif" font-size="38.5" letter-spacing="2.09" stroke="#fff" stroke-width="0.5" fill="#000" xml:space="preserve" style="white-space:pre">3−0.9</text>
<text transform="translate(1259,1394)" x="-0.96" font-family="'Liberation Sans',sans-serif" font-size="38.5" letter-spacing="0.1" stroke="#fff" stroke-width="0.5" fill="#000" xml:space="preserve" style="white-space:pre">ø2.0</text>
<text transform="translate(1340,1370.5)" x="-1.08" font-family="'Liberation Sans',sans-serif" font-size="27" font-weight="bold" letter-spacing="-0.86" stroke="#fff" stroke-width="0.8" fill="#000" xml:space="preserve" style="white-space:pre">+0.1</text>
<text transform="translate(1340,1394.5)" x="-1.08" font-family="'Liberation Sans',sans-serif" font-size="27" font-weight="bold" letter-spacing="2.88" stroke="#fff" stroke-width="0.8" fill="#000" xml:space="preserve" style="white-space:pre">−0</text>
<text transform="translate(1273.75,1300) rotate(-90)" x="-3.07" font-family="'Liberation Sans',sans-serif" font-size="41" letter-spacing="-3.64" stroke="#fff" stroke-width="0.5" fill="#000" xml:space="preserve" style="white-space:pre">1.5</text>
<text transform="translate(1316.5,1147.5) rotate(-90)" x="-2.05" font-family="'Liberation Sans',sans-serif" font-size="41" letter-spacing="0.85" stroke="#fff" stroke-width="0.5" fill="#000" xml:space="preserve" style="white-space:pre">6.6</text>
<text transform="translate(1444,1157.5) rotate(-90)" x="-1.8" font-family="'Liberation Sans',sans-serif" font-size="40" letter-spacing="-0.12" stroke="#fff" stroke-width="0.5" fill="#000" xml:space="preserve" style="white-space:pre">OP:8.2±0.8</text>
<text transform="translate(1570,1127.5) rotate(-90)" x="-3.2" font-family="'Liberation Sans',sans-serif" font-size="40" letter-spacing="0.88" stroke="#fff" stroke-width="0.5" fill="#000" xml:space="preserve" style="white-space:pre">FP:9.3±0.8</text>
<text transform="translate(1843.75,515)" x="-1.54" font-family="'Liberation Sans',sans-serif" font-size="38.5" letter-spacing="2.28" stroke="#fff" stroke-width="0.5" fill="#000" xml:space="preserve" style="white-space:pre">5.8</text>
<text transform="translate(1843.75,580.75)" x="-1.54" font-family="'Liberation Sans',sans-serif" font-size="38.5" letter-spacing="2.47" stroke="#fff" stroke-width="0.5" fill="#000" xml:space="preserve" style="white-space:pre">3.7</text>
<text transform="translate(1582.5,1629.25)" x="-1.54" font-family="'Liberation Sans',sans-serif" font-size="38.5" letter-spacing="2" stroke="#fff" stroke-width="0.5" fill="#000" xml:space="preserve" style="white-space:pre">3.4±0.2</text>
<text transform="translate(1910,1586.25)" x="-1.54" font-family="'Liberation Sans',sans-serif" font-size="38.5" letter-spacing="-0.41" stroke="#fff" stroke-width="0.5" fill="#000" xml:space="preserve" style="white-space:pre">0.4</text>
<text transform="translate(2642,569.5)" x="-2.89" font-family="'Liberation Sans',sans-serif" font-size="38.5" letter-spacing="0.85" stroke="#fff" stroke-width="0.5" fill="#000" xml:space="preserve" style="white-space:pre">12.8</text>
<text transform="translate(2734,764.5) rotate(16.35)" font-family="'Liberation Sans',sans-serif" font-size="38.5" font-style="italic" letter-spacing="1" stroke="#fff" stroke-width="1.6" fill="#000" xml:space="preserve" style="white-space:pre">10</text>
<text transform="translate(2326.25,1117)" x="-5.6" font-family="'Liberation Sans',sans-serif" font-size="70" letter-spacing="-0.75" stroke="none" fill="#000" xml:space="preserve" style="white-space:pre">NC</text>
<text transform="translate(2633.75,1117)" x="-5.6" font-family="'Liberation Sans',sans-serif" font-size="70" letter-spacing="-0.4" stroke="none" fill="#000" xml:space="preserve" style="white-space:pre">NO</text>
<text transform="translate(2971.9,1117)" x="-3.5" font-family="'Liberation Sans',sans-serif" font-size="70" stroke="none" fill="#000" xml:space="preserve" style="white-space:pre">C</text>
<text transform="translate(2328.5,1032) scale(0.7,1)" font-family="'Liberation Sans',sans-serif" font-size="58.5" fill="#000" xml:space="preserve" style="white-space:pre" stroke="#000" stroke-width="2" stroke-linejoin="round">C</text>
<text transform="translate(2509.25,1032) scale(0.7,1)" font-family="'Liberation Sans',sans-serif" font-size="58.5" fill="#000" xml:space="preserve" style="white-space:pre" stroke="#000" stroke-width="2" stroke-linejoin="round">US</text>
<text transform="translate(2673.8,1010.3)" font-family="'Liberation Sans',sans-serif" font-size="50" text-anchor="middle" font-weight="bold" fill="#000" xml:space="preserve" style="white-space:pre" stroke="#000" stroke-width="2.6" stroke-linejoin="round">CQC</text>
<text transform="translate(1448,1731) scale(0.79,1)" font-family="'Liberation Mono',monospace" font-size="47.06" stroke="#fff" stroke-width="0.5" fill="#000" xml:space="preserve" style="white-space:pre">NC</text>
<text transform="translate(1448,1846) scale(0.79,1)" font-family="'Liberation Mono',monospace" font-size="47.06" stroke="#fff" stroke-width="0.5" fill="#000" xml:space="preserve" style="white-space:pre">NO</text>
<text transform="translate(1113,1928.5) scale(0.79,1)" font-family="'Liberation Mono',monospace" font-size="47.06" stroke="#fff" stroke-width="0.5" fill="#000" xml:space="preserve" style="white-space:pre">COM</text>
<rect x="6" y="6" width="3330.5" height="2404" stroke-width="3" fill="none"/>
<rect x="66" y="65" width="3210.5" height="2285" stroke-width="2.5" fill="none"/>
<line x1="6" y1="6" x2="66" y2="65" stroke-width="2.5"/>
<line x1="3336.5" y1="6" x2="3276.5" y2="65" stroke-width="2.5"/>
<line x1="6" y1="2410" x2="66" y2="2350" stroke-width="2.5"/>
<line x1="3336.5" y1="2410" x2="3276.5" y2="2350" stroke-width="2.5"/>
<line x1="467" y1="6" x2="467" y2="65" stroke-width="2.5"/>
<line x1="467" y1="2350" x2="467" y2="2410" stroke-width="2.5"/>
<line x1="868.5" y1="6" x2="868.5" y2="65" stroke-width="2.5"/>
<line x1="868.5" y1="2350" x2="868.5" y2="2410" stroke-width="2.5"/>
<line x1="1269.5" y1="6" x2="1269.5" y2="65" stroke-width="2.5"/>
<line x1="1269.5" y1="2350" x2="1269.5" y2="2410" stroke-width="2.5"/>
<line x1="1671" y1="6" x2="1671" y2="65" stroke-width="2.5"/>
<line x1="1671" y1="2350" x2="1671" y2="2410" stroke-width="2.5"/>
<line x1="2072" y1="6" x2="2072" y2="65" stroke-width="2.5"/>
<line x1="2072" y1="2350" x2="2072" y2="2410" stroke-width="2.5"/>
<line x1="2473.5" y1="6" x2="2473.5" y2="65" stroke-width="2.5"/>
<line x1="2473.5" y1="2350" x2="2473.5" y2="2410" stroke-width="2.5"/>
<line x1="2874.5" y1="6" x2="2874.5" y2="65" stroke-width="2.5"/>
<line x1="2874.5" y1="2350" x2="2874.5" y2="2410" stroke-width="2.5"/>
<line x1="6" y1="446" x2="66" y2="446" stroke-width="2.5"/>
<line x1="3276.5" y1="446" x2="3336.5" y2="446" stroke-width="2.5"/>
<line x1="6" y1="827.5" x2="66" y2="827.5" stroke-width="2.5"/>
<line x1="3276.5" y1="827.5" x2="3336.5" y2="827.5" stroke-width="2.5"/>
<line x1="6" y1="1208" x2="66" y2="1208" stroke-width="2.5"/>
<line x1="3276.5" y1="1208" x2="3336.5" y2="1208" stroke-width="2.5"/>
<line x1="6" y1="1588.5" x2="66" y2="1588.5" stroke-width="2.5"/>
<line x1="3276.5" y1="1588.5" x2="3336.5" y2="1588.5" stroke-width="2.5"/>
<line x1="6" y1="1968.5" x2="66" y2="1968.5" stroke-width="2.5"/>
<line x1="3276.5" y1="1968.5" x2="3336.5" y2="1968.5" stroke-width="2.5"/>
<line x1="1276" y1="65" x2="1276" y2="456" stroke-width="3"/>
<line x1="1831.5" y1="65" x2="1831.5" y2="456" stroke-width="3"/>
<line x1="2275.5" y1="65" x2="2275.5" y2="456" stroke-width="3"/>
<line x1="2832" y1="65" x2="2832" y2="456" stroke-width="3"/>
<line x1="1276" y1="143" x2="3276.5" y2="143" stroke-width="3"/>
<line x1="1276" y1="220.5" x2="3276.5" y2="220.5" stroke-width="3"/>
<line x1="1276" y1="299" x2="3276.5" y2="299" stroke-width="3"/>
<line x1="1276" y1="376.5" x2="3276.5" y2="376.5" stroke-width="3"/>
<line x1="1276" y1="454.5" x2="3276.5" y2="454.5" stroke-width="3"/>
<line x1="66" y1="2082" x2="1833" y2="2082" stroke-width="2.6"/>
<line x1="66" y1="2149" x2="1833" y2="2149" stroke-width="2.6"/>
<line x1="66" y1="2216" x2="1833" y2="2216" stroke-width="2.6"/>
<line x1="66" y1="2283" x2="1833" y2="2283" stroke-width="2.6"/>
<line x1="140.5" y1="2082" x2="140.5" y2="2350" stroke-width="2.6"/>
<line x1="320" y1="2082" x2="320" y2="2350" stroke-width="2.6"/>
<line x1="486.5" y1="2082" x2="486.5" y2="2350" stroke-width="2.6"/>
<line x1="1486" y1="2082" x2="1486" y2="2350" stroke-width="2.6"/>
<line x1="1675" y1="2082" x2="1675" y2="2350" stroke-width="2.6"/>
<line x1="1833" y1="1948.5" x2="3276.5" y2="1948.5" stroke-width="2.6"/>
<line x1="1833" y1="1947.2" x2="1833" y2="2350" stroke-width="2.6"/>
<line x1="1953.5" y1="1948.5" x2="1953.5" y2="2350" stroke-width="2.6"/>
<line x1="2099.5" y1="1948.5" x2="2099.5" y2="2350" stroke-width="2.6"/>
<line x1="2224.5" y1="1948.5" x2="2224.5" y2="2350" stroke-width="2.6"/>
<line x1="2338.5" y1="1948.5" x2="2338.5" y2="2350" stroke-width="2.6"/>
<line x1="1833" y1="2015" x2="2338.5" y2="2015" stroke-width="2.6"/>
<line x1="1833" y1="2082" x2="3276.5" y2="2082" stroke-width="2.6"/>
<line x1="1833" y1="2149" x2="3276.5" y2="2149" stroke-width="2.6"/>
<line x1="1833" y1="2216" x2="3276.5" y2="2216" stroke-width="2.6"/>
<line x1="1953.5" y1="2283" x2="3276.5" y2="2283" stroke-width="2.6"/>
<line x1="1953.5" y1="2249.5" x2="2224.5" y2="2249.5" stroke-width="2.6"/>
<line x1="1953.5" y1="2316" x2="2224.5" y2="2316" stroke-width="2.6"/>
<line x1="2423.75" y1="2082" x2="2423.75" y2="2350" stroke-width="2.6"/>
<line x1="2573" y1="2082" x2="2573" y2="2350" stroke-width="2.6"/>
<line x1="2673" y1="2283" x2="2673" y2="2350" stroke-width="2.6"/>
<line x1="2785.5" y1="2283" x2="2785.5" y2="2350" stroke-width="2.6"/>
<line x1="2978.75" y1="2283" x2="2978.75" y2="2350" stroke-width="2.6"/>
<circle cx="2838.25" cy="2318" r="16.2" stroke-width="2.2" fill="none"/>
<circle cx="2838.25" cy="2318" r="9" stroke-width="2.2" fill="none"/>
<line x1="2838.25" y1="2295" x2="2838.25" y2="2340.5" stroke-width="2.2"/>
<line x1="2816" y1="2318" x2="2960.5" y2="2318" stroke-width="2.2"/>
<path d="M2881.75 2308 L2944.25 2301.5 L2944.25 2334.5 L2881.75 2328 Z" stroke-width="2.2" fill="none"/>
<line x1="2402" y1="1626" x2="2402" y2="1948.5" stroke-width="3"/>
<line x1="2522.5" y1="1626" x2="2522.5" y2="1948.5" stroke-width="3"/>
<line x1="2668.25" y1="1626" x2="2668.25" y2="1948.5" stroke-width="3"/>
<line x1="2792.5" y1="1626" x2="2792.5" y2="1948.5" stroke-width="3"/>
<line x1="3083.75" y1="1626" x2="3083.75" y2="1948.5" stroke-width="3"/>
<line x1="2402" y1="1627.5" x2="3276.5" y2="1627.5" stroke-width="3"/>
<line x1="2402" y1="1664.5" x2="3276.5" y2="1664.5" stroke-width="3"/>
<line x1="2402" y1="1701.25" x2="3276.5" y2="1701.25" stroke-width="3"/>
<line x1="2402" y1="1738.25" x2="3276.5" y2="1738.25" stroke-width="3"/>
<line x1="2402" y1="1775.75" x2="3276.5" y2="1775.75" stroke-width="3"/>
<line x1="2402" y1="1812.5" x2="3276.5" y2="1812.5" stroke-width="3"/>
<line x1="2402" y1="1849.5" x2="3276.5" y2="1849.5" stroke-width="3"/>
<line x1="2402" y1="1886.25" x2="3276.5" y2="1886.25" stroke-width="3"/>
<path d="M253.75 185 L1038 185 L1038 413 L253.75 413 Z M285 413 L285 274.5 L390 274.5 L390 222 L442 222 L442 265 A12.5 12.5 0 0 0 454.5 277.5 L475.5 277.5 A10 10 0 0 0 485.5 267.5 L485.5 185 L560 185 L560 265 A12.5 12.5 0 0 0 572.5 277.5 L603 277.5 L603 222 L698.25 222 L698.25 208.75 L1007.5 208.75 L1007.5 413 Z M303.75 185 L303.75 262 L352.5 262 L352.5 203.75 L369.5 185 Z" fill="url(#xh)" fill-rule="evenodd" stroke="none"/>
<path d="M253.75 413 L253.75 185 L1038 185 L1038 413" stroke-width="2.2" fill="none"/>
<path d="M285 413 L285 274.5 L390 274.5 L390 222 L442 222 L442 265 A12.5 12.5 0 0 0 454.5 277.5 L475.5 277.5 A10 10 0 0 0 485.5 267.5 L485.5 262" stroke-width="2.2" fill="none"/>
<path d="M560 262 L560 265 A12.5 12.5 0 0 0 572.5 277.5 L603 277.5 L603 222 L698.25 222 L698.25 208.75 L1007.5 208.75 L1007.5 413" stroke-width="2.2" fill="none"/>
<path d="M303.75 185 L303.75 262 L352.5 262 L352.5 203.75" stroke-width="3.2" fill="none"/>
<line x1="352.5" y1="203.75" x2="369.5" y2="185" stroke-width="2.2"/>
<path d="M303.75 212.5 L327.5 212.5 L340.5 262" stroke-width="1.6" fill="none"/>
<line x1="270" y1="412" x2="284" y2="400" stroke-width="1.6"/>
<path d="M451.25 185 L451.25 178 L476.25 178 L476.25 185" stroke-width="2.2" fill="none"/>
<path d="M568.75 185 L568.75 178 L594.25 178 L594.25 185" stroke-width="2.2" fill="none"/>
<line x1="485.5" y1="185" x2="485.5" y2="268" stroke-width="2.4"/>
<line x1="560" y1="185" x2="560" y2="268" stroke-width="2.4"/>
<path d="M485.5 166 A37.25 37.25 0 0 1 560 166 L560 267.75 A37.25 37.25 0 0 1 485.5 267.75 Z" stroke-width="1.6" fill="none"/>
<line x1="485.5" y1="225" x2="560" y2="225" stroke-width="1.6"/>
<line x1="485.5" y1="233.75" x2="560" y2="233.75" stroke-width="1.6"/>
<path d="M811.25 279.4 L291.75 311.1 L291.75 315.6 L811.25 283.75" stroke-width="1.5" fill="none"/>
<line x1="343.5" y1="307" x2="343.5" y2="312.5" stroke-width="1.5"/>
<path d="M886 272 L908.75 273.5 L908.75 278.5 L886 278.5" stroke-width="1.5" fill="none"/>
<path d="M773.11 287.13 A88 88 0 0 1 605.35 318.07 L610.17 315.86 A82.7 82.7 0 0 0 767.80 287.07" stroke-width="1.5" fill="none"/>
<path d="M365 386.5 L365 366.25 A10 10 0 0 0 355 356.25 L334.5 356.25 L334.5 282 L424.75 282 A34 34 0 0 1 458.75 316 L458.75 356.75 A12 12 0 0 0 470.75 368.75 L554.25 368.75 A12 12 0 0 0 566.25 356.75 L566.25 330.25 A24 24 0 0 1 590.25 306.25 L612.25 306.25 A9 9 0 0 1 621.25 315.25 L621.25 367.5 L600 367.5 A9.5 9.5 0 0 0 590.5 377 L590.5 408" stroke-width="3.6" fill="none"/>
<path d="M285.5 414 L285.5 387 L544.5 387 L565 408.25 L726.25 408.25 L738.75 395.75 L958.25 395.75 L958.25 321.25 L1007.5 321.25" stroke-width="3.6" fill="none"/>
<line x1="1007.5" y1="321.25" x2="1007.5" y2="414" stroke-width="3"/>
<path d="M781.25 216.25 L824.5 216.25 L824.5 241.75 L781.25 241.75 Z M874.5 216.25 L937 216.25 L940 228 L935 241.75 L874.5 241.75 Z" fill="url(#h1)" stroke="none"/>
<path d="M824.5 216.25 L874.5 216.25 L874.5 241.75 L884.5 241.75 L884.5 248 A9 9 0 0 1 875.5 257 L824.5 257 A9 9 0 0 1 815.5 248 L815.5 241.75 L824.5 241.75 Z" fill="url(#h2)" stroke="none"/>
<path d="M824.5 216.25 L874.5 216.25 L874.5 241.75 L884.5 241.75 L884.5 248 A9 9 0 0 1 875.5 257 L824.5 257 A9 9 0 0 1 815.5 248 L815.5 241.75 L824.5 241.75 Z" stroke-width="2.6" fill="none"/>
<path d="M1005.75 216.25 L781.25 216.25 L781.25 241.75 L824.5 241.75" stroke-width="3.6" fill="none"/>
<line x1="781.25" y1="222" x2="1005" y2="222" stroke-width="1.6"/>
<path d="M874.5 241.75 L961.25 241.75 L961.25 321.25" stroke-width="3.6" fill="none"/>
<line x1="1004.8" y1="214.5" x2="1004.8" y2="321.25" stroke-width="5.4"/>
<line x1="958" y1="321.25" x2="1008" y2="321.25" stroke-width="3.6"/>
<path d="M811.25 272 A14 14 0 0 1 825.25 258 L872.25 258 A14 14 0 0 1 886.25 272 L886.25 284.42 A16 16 0 0 1 870.68 300.42 L827.68 301.56 A16 16 0 0 1 811.25 285.57 Z" fill="url(#h3)" stroke="none"/>
<path d="M811.25 272 A14 14 0 0 1 825.25 258 L872.25 258 A14 14 0 0 1 886.25 272 L886.25 284.42 A16 16 0 0 1 870.68 300.42 L827.68 301.56 A16 16 0 0 1 811.25 285.57 Z" stroke-width="2" fill="none"/>
<path d="M815.5 352.5 L815.5 346 A9 9 0 0 1 824.5 337 L875.5 337 A9 9 0 0 1 884.5 346 L884.5 352.5 L874.5 352.5 L874.5 377.5 L824.5 377.5 L824.5 352.5 Z" fill="url(#h1)" stroke="none"/>
<path d="M815.5 352.5 L815.5 346 A9 9 0 0 1 824.5 337 L875.5 337 A9 9 0 0 1 884.5 346 L884.5 352.5 L874.5 352.5 L874.5 377.5 L824.5 377.5 L824.5 352.5 Z" stroke-width="2.6" fill="none"/>
<path d="M777.5 377.5 L790 352.5 L824.5 352.5 L824.5 377.5 Z M874.5 352.5 L899.5 352.5 L899.5 377.5 L874.5 377.5 Z" fill="url(#h2)" stroke="none"/>
<path d="M824.5 352.5 L790 352.5 L777.5 377.5 L899.5 377.5 L899.5 352.5 L874.5 352.5" stroke-width="3.6" fill="none"/>
<path d="M776.75 395.75 L776.75 377.5" stroke-width="3.6" fill="none"/>
<path d="M899.5 377.5 L899.5 395.75" stroke-width="3.6" fill="none"/>
<path d="M849.5 241.75 L1068.75 190.75 L1153.75 190.75" stroke-width="1.5" fill="none"/>
<path d="M886.25 273 L1062.5 236.75 L1135 236.75" stroke-width="1.5" fill="none"/>
<path d="M860 336.25 L1072.5 283.75 L1135 283.75" stroke-width="1.5" fill="none"/>
<path d="M250.75 414.25 L505 414.25 A30 30 0 0 1 535 444.25 L535 550.5 L757.25 550.5 L757.25 444.25 A30 30 0 0 1 787.25 414.25 L1041.25 414.25 L1041.25 587.5 L1015 587.5 L1010.5 569.25 L912 569.25 L899.5 590.5 L776.25 590.5 L763.75 569.25 L528.75 569.25 L516.25 590.5 L393 590.5 L380.75 569.25 L281.25 569.25 L277.5 587.5 L250.75 587.5 Z" stroke-width="3.6" fill="none"/>
<path d="M512 414.25 L514.25 414.25 A27 27 0 0 1 541.25 441.25 L541.25 543 L751.25 543 L751.25 441.25 A27 27 0 0 1 778.25 414.25 L779 414.25" stroke-width="1.5" fill="none"/>
<line x1="541.25" y1="524.25" x2="751.25" y2="524.25" stroke-width="1.5"/>
<path d="M421.1 434.6 L469.9 434.6 A68.6 67.4 0 0 1 469.9 560.9 L421.1 560.9 A68.6 67.4 0 0 1 421.1 434.6 Z" stroke-width="3.6" fill="none"/>
<circle cx="846.75" cy="498" r="64.1" stroke-width="3.6" fill="none"/>
<line x1="432.5" y1="498" x2="458.5" y2="498" stroke-width="1.5"/>
<line x1="445.5" y1="485" x2="445.5" y2="511" stroke-width="1.5"/>
<line x1="833.75" y1="498" x2="859.75" y2="498" stroke-width="1.5"/>
<line x1="846.75" y1="485" x2="846.75" y2="511" stroke-width="1.5"/>
<rect x="600" y="433" width="92.5" height="62" stroke-width="1.5" fill="none"/>
<rect x="606.25" y="435" width="80" height="59.25" stroke-width="3.6" fill="none"/>
<line x1="606.25" y1="466.25" x2="686.25" y2="466.25" stroke-width="3"/>
<path d="M304.5 569.25 L304.5 607.5" stroke-width="3.6" fill="none"/>
<path d="M360.5 569.25 L360.5 607.5" stroke-width="3.6" fill="none"/>
<path d="M304.5 607.5 L331.75 616.25 L360.5 607.5" stroke-width="1.6" fill="none"/>
<path d="M618.25 569.25 L618.25 608.25" stroke-width="3.6" fill="none"/>
<path d="M673.75 569.25 L673.75 608.25" stroke-width="3.6" fill="none"/>
<path d="M618.25 608.25 L650 618 L673.75 608.25" stroke-width="1.6" fill="none"/>
<path d="M932.5 569.25 L932.5 608" stroke-width="3.6" fill="none"/>
<path d="M987.5 569.25 L987.5 621.75" stroke-width="3.6" fill="none"/>
<path d="M932.5 608 L970.75 621.75 L987.5 621.75" stroke-width="1.6" fill="none"/>
<path d="M424.5 1146 L424.5 917.5 L1209.75 917.5 L1209.75 1146" stroke-width="3" fill="none"/>
<path d="M622 917.5 L622 911.25 L648.25 911.25 L648.25 917.5" stroke-width="2.4" fill="none"/>
<path d="M739.5 917.5 L739.5 911.25 L765.5 911.25 L765.5 917.5" stroke-width="2.4" fill="none"/>
<path d="M657.5 917.5 L657.5 897.5 A36.25 36.25 0 0 1 730 897.5 L730 917.5" stroke-width="2.6" fill="none"/>
<path d="M658.5 910 A36.2 36.2 0 0 1 729 910" stroke-width="2" fill="none"/>
<path d="M472.5 917.5 L472.5 914 A17 17 0 0 1 486.25 898 L1062.3 732.3 L1067.3 750.9 L490 917.5" stroke-width="3.2" fill="none"/>
<line x1="1081.25" y1="793" x2="993.54" y2="808.1" stroke="#222" stroke-width="1.1"/>
<line x1="973.83" y1="811.49" x2="953.13" y2="815.06" stroke="#222" stroke-width="1.1"/>
<line x1="935.4" y1="818.11" x2="837.83" y2="834.91" stroke="#222" stroke-width="1.1"/>
<line x1="820.09" y1="837.96" x2="799.4" y2="841.53" stroke="#222" stroke-width="1.1"/>
<line x1="780.67" y1="844.75" x2="694.93" y2="859.51" stroke="#222" stroke-width="1.1"/>
<line x1="1083.75" y1="811.25" x2="996.04" y2="826.36" stroke="#222" stroke-width="1.1"/>
<line x1="976.33" y1="829.76" x2="955.64" y2="833.32" stroke="#222" stroke-width="1.1"/>
<line x1="937.9" y1="836.38" x2="840.34" y2="853.19" stroke="#222" stroke-width="1.1"/>
<line x1="822.6" y1="856.25" x2="801.9" y2="859.81" stroke="#222" stroke-width="1.1"/>
<line x1="783.18" y1="863.04" x2="697.44" y2="877.81" stroke="#222" stroke-width="1.1"/>
<line x1="1081.25" y1="793" x2="1083.75" y2="811.25" stroke-width="1.1" stroke="#222"/>
<path d="M474 945.5 L500 945.5 L512 995.5 L474 995.5 Z" stroke-width="2.6" fill="none"/>
<path d="M480 948.5 L494 946 L507 984.5 L492.5 989.5 Z" stroke-width="2.6" fill="none"/>
<path d="M421.75 1146.75 L676 1146.75 A30 30 0 0 1 706 1176.75 L706 1283 L928.25 1283 L928.25 1176.75 A30 30 0 0 1 958.25 1146.75 L1212.25 1146.75 L1212.25 1320 L1186 1320 L1181.5 1301.75 L1083 1301.75 L1070.5 1323 L947.25 1323 L934.75 1301.75 L699.75 1301.75 L687.25 1323 L564 1323 L551.75 1301.75 L452.25 1301.75 L448.5 1320 L421.75 1320 Z" stroke-width="3.6" fill="none"/>
<path d="M683 1146.75 L685.25 1146.75 A27 27 0 0 1 712.25 1173.75 L712.25 1277 L922.25 1277 L922.25 1173.75 A27 27 0 0 1 949.25 1146.75 L950 1146.75" stroke-width="2.8" fill="none"/>
<path d="M592.1 1167.1 L640.9 1167.1 A68.6 67.4 0 0 1 640.9 1293.4 L592.1 1293.4 A68.6 67.4 0 0 1 592.1 1167.1 Z" stroke-width="3.6" fill="none"/>
<circle cx="1017.75" cy="1230.5" r="64.1" stroke-width="3.6" fill="none"/>
<line x1="603.5" y1="1230.5" x2="629.5" y2="1230.5" stroke-width="1.5"/>
<line x1="1004.75" y1="1230.5" x2="1030.75" y2="1230.5" stroke-width="1.5"/>
<rect x="771" y="1165.5" width="92.5" height="62" stroke-width="2.8" fill="none"/>
<rect x="777.25" y="1167.5" width="80" height="59.25" stroke-width="3.6" fill="none"/>
<line x1="777.25" y1="1198.75" x2="857.25" y2="1198.75" stroke-width="3"/>
<path d="M475.75 1302 L475.75 1426.5 C475.75 1434.5 485.95 1445 485.95 1459 C485.95 1473 478.25 1478.5 476.75 1488.5 L486.75 1533.3" stroke-width="3.3" fill="none" stroke-linejoin="round"/>
<path d="M531.25 1302 L531.25 1426.5 C531.25 1434.5 521.05 1445 521.05 1459 C521.05 1473 528.75 1478.5 530.25 1488.5 L520.25 1533.3" stroke-width="3.3" fill="none" stroke-linejoin="round"/>
<line x1="485.3" y1="1533.3" x2="521.7" y2="1533.3" stroke-width="3.3"/>
<path d="M789.25 1302 L789.25 1426.5 C789.25 1434.5 799.45 1445 799.45 1459 C799.45 1473 791.75 1478.5 790.25 1488.5 L800.25 1533.3" stroke-width="3.3" fill="none" stroke-linejoin="round"/>
<path d="M844.75 1302 L844.75 1426.5 C844.75 1434.5 834.55 1445 834.55 1459 C834.55 1473 842.25 1478.5 843.75 1488.5 L833.75 1533.3" stroke-width="3.3" fill="none" stroke-linejoin="round"/>
<line x1="798.8" y1="1533.3" x2="835.2" y2="1533.3" stroke-width="3.3"/>
<path d="M1102.75 1302 L1102.75 1426.5 C1102.75 1434.5 1112.95 1445 1112.95 1459 C1112.95 1473 1105.25 1478.5 1103.75 1488.5 L1113.75 1533.3" stroke-width="3.3" fill="none" stroke-linejoin="round"/>
<path d="M1158.25 1302 L1158.25 1426.5 C1158.25 1434.5 1148.05 1445 1148.05 1459 C1148.05 1473 1155.75 1478.5 1157.25 1488.5 L1147.25 1533.3" stroke-width="3.3" fill="none" stroke-linejoin="round"/>
<line x1="1112.3" y1="1533.3" x2="1148.7" y2="1533.3" stroke-width="3.3"/>
<line x1="817.4" y1="1302" x2="817.4" y2="1407" stroke="#444" stroke-width="1"/>
<line x1="817.4" y1="1415" x2="817.4" y2="1430" stroke="#444" stroke-width="1"/>
<line x1="817.4" y1="1438" x2="817.4" y2="1508" stroke="#444" stroke-width="1"/>
<line x1="817.4" y1="1516" x2="817.4" y2="1531" stroke="#444" stroke-width="1"/>
<line x1="817.4" y1="1539" x2="817.4" y2="1575" stroke="#444" stroke-width="1"/>
<line x1="616.25" y1="642.5" x2="616.25" y2="1211.5" stroke-width="2.9"/>
<line x1="616.25" y1="1217.5" x2="616.25" y2="1243.5" stroke-width="2.9"/>
<line x1="616.25" y1="1250" x2="616.25" y2="1623.75" stroke-width="2.9"/>
<line x1="1173.25" y1="642.5" x2="1173.25" y2="713.25" stroke-width="2.9"/>
<line x1="616.25" y1="653" x2="1173.25" y2="653" stroke-width="2.9"/>
<path d="M616.25 653 L641.25 648.8 L641.25 657.2 Z" fill="#000" stroke="none"/>
<path d="M1173.25 653 L1148.25 657.2 L1148.25 648.8 Z" fill="#000" stroke="none"/>
<line x1="1017.5" y1="1217.5" x2="1017.5" y2="1243.5" stroke-width="2.9"/>
<line x1="1017.5" y1="1249.5" x2="1017.5" y2="1625" stroke-width="2.9"/>
<line x1="616.25" y1="1613.75" x2="1017.5" y2="1613.75" stroke-width="2.9"/>
<path d="M616.25 1613.75 L641.25 1609.55 L641.25 1617.95 Z" fill="#000" stroke="none"/>
<path d="M1017.5 1613.75 L992.5 1617.95 L992.5 1609.55 Z" fill="#000" stroke="none"/>
<line x1="503.5" y1="1540" x2="503.5" y2="1683.75" stroke-width="2.9"/>
<line x1="817" y1="1582.5" x2="817" y2="1683.75" stroke-width="3.2"/>
<line x1="1130.5" y1="1540" x2="1130.5" y2="1683.75" stroke-width="2.9"/>
<line x1="503.5" y1="1674.25" x2="1130.5" y2="1674.25" stroke-width="2.9"/>
<path d="M503.5 1674.25 L528.5 1670.05 L528.5 1678.45 Z" fill="#000" stroke="none"/>
<path d="M817 1674.25 L792 1678.45 L792 1670.05 Z" fill="#000" stroke="none"/>
<path d="M817 1674.25 L842 1670.05 L842 1678.45 Z" fill="#000" stroke="none"/>
<path d="M1130.5 1674.25 L1105.5 1678.45 L1105.5 1670.05 Z" fill="#000" stroke="none"/>
<line x1="364.5" y1="1167.5" x2="591" y2="1167.5" stroke-width="2.9"/>
<line x1="364.5" y1="1293.75" x2="591" y2="1293.75" stroke-width="2.9"/>
<line x1="375" y1="1167.5" x2="375" y2="1293.75" stroke-width="2.9"/>
<path d="M375 1167.5 L379.2 1192.5 L370.8 1192.5 Z" fill="#000" stroke="none"/>
<path d="M375 1293.75 L370.8 1268.75 L379.2 1268.75 Z" fill="#000" stroke="none"/>
<path d="M282 1351.25 L366.25 1351.25 L553.75 1261.25" stroke-width="2.9" fill="none"/>
<path d="M553.75 1261.25 L533.03 1275.85 L529.39 1268.28 Z" fill="#000" stroke="none"/>
<line x1="736.25" y1="1390" x2="788.75" y2="1390" stroke-width="2.9"/>
<path d="M788.75 1390 L763.75 1394.2 L763.75 1385.8 Z" fill="#000" stroke="none"/>
<line x1="845.25" y1="1390" x2="897.5" y2="1390" stroke-width="2.9"/>
<path d="M845.25 1390 L870.25 1385.8 L870.25 1394.2 Z" fill="#000" stroke="none"/>
<path d="M1071.25 1268.75 L1255 1398.75 L1389 1398.75" stroke-width="2.9" fill="none"/>
<path d="M1071.25 1268.75 L1094.08 1279.76 L1089.23 1286.62 Z" fill="#000" stroke="none"/>
<line x1="1036.25" y1="1230.5" x2="1288" y2="1230.5" stroke-width="2.9"/>
<line x1="1278" y1="1230.5" x2="1278" y2="1322.5" stroke-width="2.9"/>
<path d="M1278 1230.5 L1282.2 1255.5 L1273.8 1255.5 Z" fill="#000" stroke="none"/>
<path d="M1278 1322.5 L1273.8 1297.5 L1282.2 1297.5 Z" fill="#000" stroke="none"/>
<line x1="1071" y1="1322.5" x2="1582.5" y2="1322.5" stroke-width="3"/>
<line x1="1215.5" y1="917.5" x2="1330" y2="917.5" stroke-width="2.9"/>
<line x1="1320" y1="917.5" x2="1320" y2="1322.5" stroke-width="2.9"/>
<path d="M1320 917.5 L1324.2 942.5 L1315.8 942.5 Z" fill="#000" stroke="none"/>
<path d="M1320 1322.5 L1315.8 1297.5 L1324.2 1297.5 Z" fill="#000" stroke="none"/>
<line x1="1087" y1="793" x2="1458" y2="793" stroke-width="2.9"/>
<line x1="1447.5" y1="793" x2="1447.5" y2="1322.5" stroke-width="2.9"/>
<path d="M1447.5 793 L1451.7 818 L1443.3 818 Z" fill="#000" stroke="none"/>
<path d="M1447.5 1322.5 L1443.3 1297.5 L1451.7 1297.5 Z" fill="#000" stroke="none"/>
<line x1="1067.5" y1="733" x2="1582.5" y2="733" stroke-width="2.9"/>
<line x1="1572.5" y1="733" x2="1572.5" y2="1322.5" stroke-width="2.9"/>
<path d="M1572.5 733 L1576.7 758 L1568.3 758 Z" fill="#000" stroke="none"/>
<path d="M1572.5 1322.5 L1568.3 1297.5 L1576.7 1297.5 Z" fill="#000" stroke="none"/>
<line x1="1692.5" y1="509.5" x2="1692.5" y2="918" stroke-width="2.9"/>
<line x1="2050.5" y1="509.5" x2="2050.5" y2="918" stroke-width="2.9"/>
<line x1="1692.5" y1="519.5" x2="2050.5" y2="519.5" stroke-width="2.9"/>
<path d="M1692.5 519.5 L1717.5 515.3 L1717.5 523.7 Z" fill="#000" stroke="none"/>
<path d="M2050.5 519.5 L2025.5 523.7 L2025.5 515.3 Z" fill="#000" stroke="none"/>
<line x1="1757" y1="575" x2="1757" y2="918" stroke-width="2.9"/>
<line x1="1985.5" y1="575" x2="1985.5" y2="918" stroke-width="2.9"/>
<line x1="1757" y1="585" x2="1985.5" y2="585" stroke-width="2.9"/>
<path d="M1757 585 L1782 580.8 L1782 589.2 Z" fill="#000" stroke="none"/>
<path d="M1985.5 585 L1960.5 589.2 L1960.5 580.8 Z" fill="#000" stroke="none"/>
<path d="M1758.5 918 L1773.25 702 L1969.5 702 L1984 918" stroke-width="3" fill="none"/>
<path d="M1841.25 862 L1846.5 791 A25 25 0 0 1 1896.5 791 L1901.5 862" stroke-width="3" fill="none"/>
<path d="M1785 911.25 L1785 862 L1958 862 L1958 911.25" stroke-width="3" fill="none"/>
<path d="M1769.5 918 L1769.5 911.25 L1973.75 911.25 L1973.75 918" stroke-width="2.6" fill="none"/>
<line x1="1691" y1="918" x2="2052" y2="918" stroke-width="3"/>
<line x1="1694.6" y1="918" x2="1694.6" y2="1146.75" stroke-width="5.4"/>
<line x1="2048.6" y1="918" x2="2048.6" y2="1146.75" stroke-width="5"/>
<line x1="1691" y1="1146.75" x2="2052.75" y2="1146.75" stroke-width="3.2"/>
<line x1="1692.5" y1="1146.75" x2="1692.5" y2="1322" stroke-width="3.2"/>
<line x1="2051" y1="1146.75" x2="2051" y2="1322" stroke-width="3.2"/>
<line x1="1692.5" y1="1301.75" x2="2051" y2="1301.75" stroke-width="3"/>
<line x1="1690.9" y1="1321.6" x2="2052.6" y2="1321.6" stroke-width="6"/>
<line x1="1871.4" y1="575" x2="1871.4" y2="662.5" stroke="#444" stroke-width="1"/>
<line x1="1871.4" y1="683" x2="1871.4" y2="703" stroke="#444" stroke-width="1"/>
<line x1="1871.4" y1="722.5" x2="1871.4" y2="820" stroke="#444" stroke-width="1"/>
<line x1="1871.4" y1="840.5" x2="1871.4" y2="860.5" stroke="#444" stroke-width="1"/>
<line x1="1871.4" y1="880" x2="1871.4" y2="977.5" stroke="#444" stroke-width="1"/>
<line x1="1871.4" y1="998" x2="1871.4" y2="1018" stroke="#444" stroke-width="1"/>
<line x1="1871.4" y1="1037.5" x2="1871.4" y2="1135" stroke="#444" stroke-width="1"/>
<line x1="1871.4" y1="1155.5" x2="1871.4" y2="1175.5" stroke="#444" stroke-width="1"/>
<line x1="1871.4" y1="1195" x2="1871.4" y2="1292.5" stroke="#444" stroke-width="1"/>
<line x1="1871.4" y1="1313" x2="1871.4" y2="1333" stroke="#444" stroke-width="1"/>
<line x1="1871.4" y1="1352.5" x2="1871.4" y2="1450" stroke="#444" stroke-width="1"/>
<line x1="1871.4" y1="1470.5" x2="1871.4" y2="1490.5" stroke="#444" stroke-width="1"/>
<line x1="1871.4" y1="1510" x2="1871.4" y2="1600" stroke="#444" stroke-width="1"/>
<line x1="1859.25" y1="1322" x2="1859.25" y2="1534.6" stroke-width="3.6"/>
<line x1="1883.75" y1="1322" x2="1883.75" y2="1534.6" stroke-width="3.6"/>
<line x1="1857.5" y1="1426.75" x2="1885.5" y2="1426.75" stroke-width="3"/>
<line x1="1857.5" y1="1489.25" x2="1885.5" y2="1489.25" stroke-width="3"/>
<line x1="1857.5" y1="1533" x2="1885.5" y2="1533" stroke-width="3"/>
<line x1="1859.25" y1="1533" x2="1859.25" y2="1600" stroke-width="2.9"/>
<line x1="1883.75" y1="1533" x2="1883.75" y2="1600" stroke-width="2.9"/>
<line x1="1748.25" y1="1324.5" x2="1748.25" y2="1632.5" stroke-width="2.9"/>
<path d="M1748.25 1324.5 L1752.45 1349.5 L1744.05 1349.5 Z" fill="#000" stroke="none"/>
<path d="M1748.25 1533 L1744.05 1508 L1752.45 1508 Z" fill="#000" stroke="none"/>
<line x1="1738.25" y1="1533" x2="1852.5" y2="1533" stroke-width="2.9"/>
<line x1="1578.75" y1="1632.5" x2="1749.5" y2="1632.5" stroke-width="2.9"/>
<line x1="1806.25" y1="1590.5" x2="1859.25" y2="1590.5" stroke-width="2.9"/>
<path d="M1859.25 1590.5 L1834.25 1594.7 L1834.25 1586.3 Z" fill="#000" stroke="none"/>
<line x1="1883.75" y1="1590.5" x2="1936.75" y2="1590.5" stroke-width="2.9"/>
<path d="M1883.75 1590.5 L1908.75 1586.3 L1908.75 1594.7 Z" fill="#000" stroke="none"/>
<line x1="2283.25" y1="563.75" x2="2283.25" y2="917.5" stroke-width="2.9"/>
<line x1="3073.75" y1="563.75" x2="3073.75" y2="917.5" stroke-width="2.9"/>
<line x1="2283.25" y1="573.25" x2="3073.75" y2="573.25" stroke-width="2.9"/>
<path d="M2283.25 573.25 L2308.25 569.05 L2308.25 577.45 Z" fill="#000" stroke="none"/>
<path d="M3073.75 573.25 L3048.75 577.45 L3048.75 569.05 Z" fill="#000" stroke="none"/>
<line x1="2283" y1="917.5" x2="3074" y2="917.5" stroke-width="3"/>
<line x1="2285.6" y1="917.5" x2="2285.6" y2="1147" stroke-width="6"/>
<line x1="3071.6" y1="917.5" x2="3071.6" y2="1147" stroke-width="6"/>
<path d="M2730.5 917.5 L2730.5 911.25 L2756.75 911.25 L2756.75 917.5" stroke-width="2.4" fill="none"/>
<path d="M2848 917.5 L2848 911.25 L2874.25 911.25 L2874.25 917.5" stroke-width="2.4" fill="none"/>
<path d="M2765.75 917.5 L2765.75 897.5 A36.25 36.25 0 0 1 2838.25 897.5 L2838.25 917.5" stroke-width="2.6" fill="none"/>
<path d="M2766.75 910 A36.2 36.2 0 0 1 2837.25 910" stroke-width="2" fill="none"/>
<path d="M3023.5 917.5 L3023.5 914.5 A17 17 0 0 0 3009 898.3 L2440.5 734.5 L2435 752.5 L3005 917.5" stroke-width="3.2" fill="none"/>
<line x1="2440.5" y1="734.5" x2="2458.75" y2="673.75" stroke-width="1.3"/>
<line x1="3025" y1="910" x2="3044.25" y2="845.5" stroke-width="1.3"/>
<line x1="2456.25" y1="683.25" x2="3040" y2="854.5" stroke-width="1.3"/>
<path d="M2456.25 683.25 L2481.37 686.45 L2479.11 694.13 Z" fill="#000" stroke="none"/>
<path d="M3040 854.5 L3014.88 851.3 L3017.14 843.62 Z" fill="#000" stroke="none"/>
<path d="M2373.12 954.38 L2428.75 953.75 L2446.88 1003.75 L2456.88 1003.75 L2440 953.75 L2465 953.75 L2487.32 1015.29 A6 6 0 0 1 2487.21 1019.67 L2484.67 1025.7 A6 6 0 0 1 2479.14 1029.38 L2430.62 1029.38 L2420.62 1003.75 L2418.12 1003.12 L2412.5 1029.38 L2386.5 1029.38 L2391.25 1003.12 L2377.5 1002.5 L2365.29 967.09 A4 4 0 0 1 2365.09 965.37 L2365.53 961.21 A7.63 7.63 0 0 1 2373.12 954.38 Z M2393.12 973.12 L2410 973.12 L2413.12 982.5 L2396.25 982.5 Z" fill="#000" fill-rule="evenodd" stroke="#000" stroke-width="0.8" stroke-linejoin="round"/>
<ellipse cx="2671.4" cy="993.75" rx="72.6" ry="45.3" fill="none" stroke="#111" stroke-width="7"/>
<path d="M2872.12 935 L2816.25 1031.88 L2832.5 1025 L2872.12 956.25 Z M2872.12 935 L2872.12 956.25 L2900 1004.38 L2911.88 1004 L2918.12 1013.75 Z M2850 1009.38 Q2865 1008.12 2880 1005.62 Q2896.25 1003.5 2913.12 1004 L2918.12 1013.75 Q2902.5 1010.62 2885 1012.75 Q2865 1016.88 2845.62 1017.75 Z M2816.25 1031.88 L2832.5 1024.75 Q2852.5 1027.5 2877.5 1022.75 Q2902.5 1018.75 2922.5 1023.12 L2928.75 1034.38 Q2906.25 1027.5 2881.25 1031.88 Q2850 1038.12 2816.25 1031.88 Z" fill="#000" stroke="none"/>
<path d="M2995.6 945 L3021.9 945 L3021.9 995.6 L2983.75 995.6 Z" stroke-width="3" fill="none"/>
<path d="M3073.5 1146.75 L2819.25 1146.75 A30 30 0 0 0 2789.25 1176.75 L2789.25 1283 L2567 1283 L2567 1176.75 A30 30 0 0 0 2537 1146.75 L2283 1146.75 L2283 1320 L2309.25 1320 L2313.75 1301.75 L2412.25 1301.75 L2424.75 1323 L2548 1323 L2560.5 1301.75 L2795.5 1301.75 L2808 1323 L2931.25 1323 L2943.5 1301.75 L3043 1301.75 L3046.75 1320 L3073.5 1320 Z" stroke-width="3.6" fill="none"/>
<path d="M2812.25 1146.75 L2810 1146.75 A27 27 0 0 0 2783 1173.75 L2783 1277 L2573 1277 L2573 1173.75 A27 27 0 0 0 2546 1146.75 L2545.25 1146.75" stroke-width="2.8" fill="none"/>
<path d="M2854.35 1167.1 L2903.15 1167.1 A68.6 67.4 0 0 1 2903.15 1293.4 L2854.35 1293.4 A68.6 67.4 0 0 1 2854.35 1167.1 Z" stroke-width="3.6" fill="none"/>
<circle cx="2477.5" cy="1230.5" r="64.1" stroke-width="3.6" fill="none"/>
<line x1="2865.75" y1="1230.5" x2="2891.75" y2="1230.5" stroke-width="1.5"/>
<line x1="2878.75" y1="1217.5" x2="2878.75" y2="1243.5" stroke-width="1.5"/>
<line x1="2464.5" y1="1230.5" x2="2490.5" y2="1230.5" stroke-width="1.5"/>
<line x1="2477.5" y1="1217.5" x2="2477.5" y2="1243.5" stroke-width="1.5"/>
<rect x="2631.75" y="1165.5" width="92.5" height="62" stroke-width="2.8" fill="none"/>
<rect x="2638" y="1167.5" width="80" height="59.25" stroke-width="3.6" fill="none"/>
<line x1="2638" y1="1198.75" x2="2718" y2="1198.75" stroke-width="3"/>
<path d="M2964 1302 L2964 1426.5 C2964 1434.5 2974.2 1445 2974.2 1459 C2974.2 1473 2966.5 1478.5 2965 1488.5 L2975 1533.3" stroke-width="3.3" fill="none" stroke-linejoin="round"/>
<path d="M3019.5 1302 L3019.5 1426.5 C3019.5 1434.5 3009.3 1445 3009.3 1459 C3009.3 1473 3017 1478.5 3018.5 1488.5 L3008.5 1533.3" stroke-width="3.3" fill="none" stroke-linejoin="round"/>
<line x1="2973.55" y1="1533.3" x2="3009.95" y2="1533.3" stroke-width="3.3"/>
<path d="M2650.5 1302 L2650.5 1426.5 C2650.5 1434.5 2660.7 1445 2660.7 1459 C2660.7 1473 2653 1478.5 2651.5 1488.5 L2661.5 1533.3" stroke-width="3.3" fill="none" stroke-linejoin="round"/>
<path d="M2706 1302 L2706 1426.5 C2706 1434.5 2695.8 1445 2695.8 1459 C2695.8 1473 2703.5 1478.5 2705 1488.5 L2695 1533.3" stroke-width="3.3" fill="none" stroke-linejoin="round"/>
<line x1="2660.05" y1="1533.3" x2="2696.45" y2="1533.3" stroke-width="3.3"/>
<path d="M2337 1302 L2337 1426.5 C2337 1434.5 2347.2 1445 2347.2 1459 C2347.2 1473 2339.5 1478.5 2338 1488.5 L2348 1533.3" stroke-width="3.3" fill="none" stroke-linejoin="round"/>
<path d="M2392.5 1302 L2392.5 1426.5 C2392.5 1434.5 2382.3 1445 2382.3 1459 C2382.3 1473 2390 1478.5 2391.5 1488.5 L2381.5 1533.3" stroke-width="3.3" fill="none" stroke-linejoin="round"/>
<line x1="2346.55" y1="1533.3" x2="2382.95" y2="1533.3" stroke-width="3.3"/>
<path d="M1240.5 1788.5 L1410.5 1710 L1415.5 1722 L1248 1799.5 Z" fill="#000" stroke="#000" stroke-width="1"/>
<circle cx="1229" cy="1802.5" r="18" stroke-width="1.6" fill="#fff"/>
<circle cx="1373" cy="1760.5" r="18.5" stroke-width="1" fill="#000"/>
<circle cx="1373" cy="1868.5" r="18" stroke-width="1.6" fill="none"/>
<line x1="1391" y1="1760.5" x2="1542.5" y2="1760.5" stroke-width="1.6"/>
<line x1="1391" y1="1868.5" x2="1542.5" y2="1868.5" stroke-width="1.6"/>
<line x1="1229" y1="1820.5" x2="1229" y2="1932.5" stroke-width="1.6"/>
</svg></body></html>
